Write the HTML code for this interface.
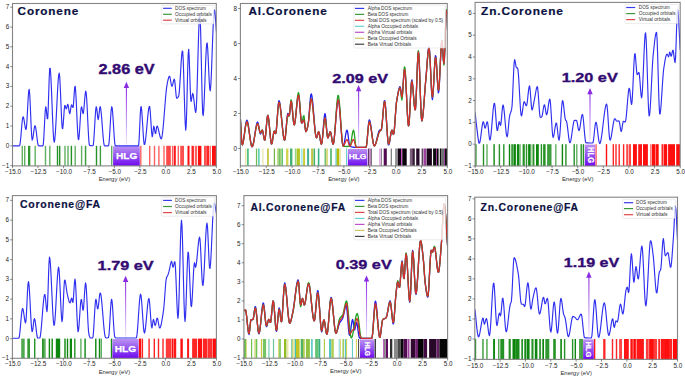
<!DOCTYPE html>
<html><head><meta charset="utf-8"><style>
html,body{margin:0;padding:0;background:#fff;}
svg{display:block;font-family:"Liberation Sans", sans-serif;}
</style></head><body>
<svg width="685" height="377" viewBox="0 0 685 377">
<defs><linearGradient id="hlgH" x1="0" y1="0" x2="0" y2="1"><stop offset="0" stop-color="#bb92f2"/><stop offset="0.5" stop-color="#9352f0"/><stop offset="1" stop-color="#7008f0"/></linearGradient><linearGradient id="arr" x1="0" y1="0" x2="0" y2="1"><stop offset="0" stop-color="#8a2be2" stop-opacity="1"/><stop offset="1" stop-color="#8a2be2" stop-opacity="0.1"/></linearGradient><clipPath id="clip0"><rect x="12.5" y="3.5" width="203.8" height="162.4"/></clipPath><clipPath id="clip1"><rect x="240.4" y="3.5" width="206.9" height="162.4"/></clipPath><clipPath id="clip2"><rect x="475.1" y="2.4" width="205.1" height="163.6"/></clipPath><clipPath id="clip3"><rect x="12.4" y="195.6" width="204" height="162.7"/></clipPath><clipPath id="clip4"><rect x="243.9" y="195.6" width="203.7" height="162.6"/></clipPath><clipPath id="clip5"><rect x="474.8" y="197.2" width="202.7" height="162.2"/></clipPath></defs>
<rect width="685" height="377" fill="#fff"/>
<g><g clip-path="url(#clip0)"><rect x="21.6" y="145.8" width="1.4" height="20.1" fill="#008000" fill-opacity="0.62"/><rect x="24" y="145.8" width="1.4" height="20.1" fill="#008000" fill-opacity="0.62"/><rect x="28" y="145.8" width="2.3" height="20.1" fill="#008000" fill-opacity="0.807"/><rect x="34.5" y="145.8" width="1.4" height="20.1" fill="#008000" fill-opacity="0.62"/><rect x="44.8" y="145.8" width="1.4" height="20.1" fill="#008000" fill-opacity="0.62"/><rect x="49.1" y="145.8" width="1.4" height="20.1" fill="#008000" fill-opacity="0.62"/><rect x="56.8" y="145.8" width="1.4" height="20.1" fill="#008000" fill-opacity="0.856"/><rect x="59" y="145.8" width="1.4" height="20.1" fill="#008000" fill-opacity="0.856"/><rect x="64.3" y="145.8" width="1.4" height="20.1" fill="#008000" fill-opacity="0.62"/><rect x="67.3" y="145.8" width="1.4" height="20.1" fill="#008000" fill-opacity="0.62"/><rect x="70.7" y="145.8" width="1.4" height="20.1" fill="#008000" fill-opacity="0.856"/><rect x="74.5" y="145.8" width="1.4" height="20.1" fill="#008000" fill-opacity="0.62"/><rect x="80.9" y="145.8" width="1.4" height="20.1" fill="#008000" fill-opacity="0.62"/><rect x="84.8" y="145.8" width="1.5" height="20.1" fill="#008000" fill-opacity="0.766"/><rect x="95.8" y="145.8" width="1.4" height="20.1" fill="#008000" fill-opacity="0.856"/><rect x="99.7" y="145.8" width="1.4" height="20.1" fill="#008000" fill-opacity="0.766"/><rect x="111" y="145.8" width="1.4" height="20.1" fill="#008000" fill-opacity="0.62"/><rect x="140.1" y="145.8" width="1.4" height="20.1" fill="#ff0000" fill-opacity="0.62"/><rect x="149" y="145.8" width="1.4" height="20.1" fill="#ff0000" fill-opacity="0.62"/><rect x="153.8" y="145.8" width="1.4" height="20.1" fill="#ff0000" fill-opacity="0.62"/><rect x="158.2" y="145.8" width="1.4" height="20.1" fill="#ff0000" fill-opacity="0.62"/><rect x="163.3" y="145.8" width="1.4" height="20.1" fill="#ff0000" fill-opacity="0.62"/><rect x="166.2" y="145.8" width="4.6" height="20.1" fill="#ff0000" fill-opacity="0.716"/><rect x="171.9" y="145.8" width="1.4" height="20.1" fill="#ff0000" fill-opacity="0.62"/><rect x="173.8" y="145.8" width="2" height="20.1" fill="#ff0000" fill-opacity="0.911"/><rect x="177.6" y="145.8" width="1.4" height="20.1" fill="#ff0000" fill-opacity="0.62"/><rect x="180.2" y="145.8" width="3.8" height="20.1" fill="#ff0000" fill-opacity="0.687"/><rect x="187.5" y="145.8" width="2" height="20.1" fill="#ff0000" fill-opacity="0.945"/><rect x="191.5" y="145.8" width="2.4" height="20.1" fill="#ff0000" fill-opacity="0.856"/><rect x="194.8" y="145.8" width="2.2" height="20.1" fill="#ff0000" fill-opacity="0.62"/><rect x="197.9" y="145.8" width="3.5" height="20.1" fill="#ff0000" fill-opacity="0.945"/><rect x="204" y="145.8" width="2.6" height="20.1" fill="#ff0000" fill-opacity="0.687"/><rect x="206.6" y="145.8" width="2.4" height="20.1" fill="#ff0000" fill-opacity="0.856"/><rect x="209.5" y="145.8" width="1.4" height="20.1" fill="#ff0000" fill-opacity="0.62"/><rect x="212" y="145.8" width="4.2" height="20.1" fill="#ff0000" fill-opacity="0.945"/><rect x="113.1" y="146.2" width="26.7" height="19.7" fill="url(#hlgH)"/><path d="M12.7,145.80 13.2,145.80 13.7,145.80 14.2,145.80 14.7,145.80 15.2,145.80 15.7,145.80 16.2,145.80 16.7,145.80 17.2,145.80 17.7,145.80 18.2,145.80 18.7,145.80 19.2,145.80 19.7,145.54 20.2,142.93 20.7,138.25 21.2,132.46 21.7,126.48 22.2,121.24 22.7,117.69 23.2,116.74 23.7,118.14 24.2,120.91 24.7,124.24 25.2,127.33 25.7,129.37 26.2,129.28 26.7,124.49 27.2,116.22 27.7,106.53 28.2,97.45 28.7,91.02 29.2,89.33 29.7,94.15 30.2,103.85 30.7,115.85 31.2,127.59 31.7,136.51 32.2,140.06 32.7,138.84 33.2,135.84 33.7,132.06 34.2,128.47 34.7,126.07 35.2,125.79 35.7,127.70 36.2,131.10 36.7,135.27 37.2,139.51 37.7,143.12 38.2,145.38 38.7,145.80 39.2,145.80 39.7,145.80 40.2,145.80 40.7,145.80 41.2,145.80 41.7,145.80 42.2,145.80 42.7,145.80 43.2,145.23 43.7,139.67 44.2,130.37 44.7,119.99 45.2,111.23 45.7,106.74 46.2,108.43 46.7,113.71 47.2,118.59 47.7,118.63 48.2,108.88 48.7,93.43 49.2,77.98 49.7,68.23 50.2,68.24 50.7,74.02 51.2,83.62 51.7,95.63 52.2,108.64 52.7,121.21 53.2,131.95 53.7,139.43 54.2,142.24 54.7,140.30 55.2,135.05 55.7,127.31 56.2,117.91 56.7,107.69 57.2,97.46 57.7,88.06 58.2,80.32 58.7,75.07 59.2,73.13 59.7,76.60 60.2,85.45 60.7,97.34 61.2,109.93 61.7,120.89 62.2,127.86 62.7,128.70 63.2,124.24 63.7,117.19 64.2,110.14 64.7,105.68 65.2,105.65 65.7,107.49 66.2,108.92 66.7,108.14 67.2,105.89 67.7,104.28 68.2,105.31 68.7,108.60 69.2,112.10 69.7,113.72 70.2,112.20 70.7,108.92 71.2,105.83 71.7,104.86 72.2,105.98 72.7,107.43 73.2,107.17 73.7,101.59 74.2,93.54 74.7,87.14 75.2,86.32 75.7,91.45 76.2,100.57 76.7,111.77 77.2,123.16 77.7,132.85 78.2,138.93 78.7,139.63 79.2,135.44 79.7,128.28 80.2,120.00 80.7,112.47 81.2,107.53 81.7,106.90 82.2,109.50 82.7,112.61 83.2,113.63 83.7,110.85 84.2,105.47 84.7,99.21 85.2,93.83 85.7,91.05 86.2,92.72 86.7,99.01 87.2,108.37 87.7,119.18 88.2,129.84 88.7,138.76 89.2,144.33 89.7,145.45 90.2,145.54 90.7,145.63 91.2,145.69 91.7,145.74 92.2,145.78 92.7,145.80 93.2,145.39 93.7,141.26 94.2,134.02 94.7,125.31 95.2,116.76 95.7,110.01 96.2,106.70 96.7,108.09 97.2,112.61 97.7,117.43 98.2,119.66 98.7,117.43 99.2,112.61 99.7,108.09 100.2,106.66 100.7,108.58 101.2,112.72 101.7,118.38 102.2,124.86 102.7,131.49 103.2,137.56 103.7,142.38 104.2,145.28 104.7,145.80 105.2,145.80 105.7,145.80 106.2,145.80 106.7,145.80 107.2,145.80 107.7,145.80 108.2,145.80 108.7,145.39 109.2,141.26 109.7,134.02 110.2,125.31 110.7,116.76 111.2,110.01 111.7,106.70 112.2,108.02 112.7,113.04 113.2,120.40 113.7,128.71 114.2,136.62 114.7,142.74 115.2,145.71 115.7,145.80 116.2,145.80 116.7,145.80 117.2,145.80 117.7,145.80 118.2,145.80 118.7,145.80 119.2,145.80 119.7,145.80 120.2,145.80 120.7,145.80 121.2,145.80 121.7,145.80 122.2,145.80 122.7,145.80 123.2,145.80 123.7,145.80 124.2,145.80 124.7,145.80 125.2,145.80 125.7,145.80 126.2,145.80 126.7,145.80 127.2,145.80 127.7,145.80 128.2,145.80 128.7,145.80 129.2,145.80 129.7,145.80 130.2,145.80 130.7,145.80 131.2,145.80 131.7,145.80 132.2,145.80 132.7,145.80 133.2,145.80 133.7,145.80 134.2,145.80 134.7,145.80 135.2,145.80 135.7,145.80 136.2,145.80 136.7,145.80 137.2,145.80 137.7,145.80 138.2,145.80 138.7,145.08 139.2,138.22 139.7,127.19 140.2,115.77 140.7,107.77 141.2,106.59 141.7,110.44 142.2,117.23 142.7,125.50 143.2,133.78 143.7,140.57 144.2,144.42 144.7,144.42 145.2,142.26 145.7,138.56 146.2,133.78 146.7,128.33 147.2,122.68 147.7,117.23 148.2,112.45 148.7,108.75 149.2,106.59 149.7,106.65 150.2,111.00 150.7,118.28 151.2,126.40 151.7,133.27 152.2,136.78 152.7,134.98 153.2,129.83 153.7,126.14 154.2,127.11 154.7,130.31 155.2,133.27 155.7,133.54 156.2,130.36 156.7,126.82 157.2,126.08 157.7,126.95 158.2,128.55 158.7,130.62 159.2,132.89 159.7,135.12 160.2,137.03 160.7,138.37 161.2,138.87 161.7,137.96 162.2,135.43 162.7,131.56 163.2,126.64 163.7,120.96 164.2,114.80 164.7,108.44 165.2,102.18 165.7,96.31 166.2,91.10 166.7,86.84 167.2,83.83 167.7,81.48 168.2,79.25 168.7,77.42 169.2,76.31 169.7,76.31 170.2,78.22 170.7,81.25 171.2,84.28 171.7,86.20 172.2,86.09 172.7,84.50 173.2,82.28 173.7,80.22 174.2,79.11 174.7,80.50 175.2,85.15 175.7,91.06 176.2,96.13 176.7,98.28 177.2,98.11 177.7,97.65 178.2,96.96 178.7,96.05 179.2,92.62 179.7,86.41 180.2,78.48 180.7,69.91 181.2,61.77 181.7,55.14 182.2,51.10 182.7,51.21 183.2,59.63 183.7,74.40 184.2,92.18 184.7,109.62 185.2,123.38 185.7,130.14 186.2,125.85 186.7,110.54 187.2,89.67 187.7,68.80 188.2,53.49 188.7,49.25 189.2,57.24 189.7,72.11 190.2,88.14 190.7,99.57 191.2,101.52 191.7,98.70 192.2,95.11 192.7,93.33 193.2,94.67 193.7,98.04 194.2,102.47 194.7,107.00 195.2,110.66 195.7,112.48 196.2,109.76 196.7,99.73 197.2,84.59 197.7,66.65 198.2,48.26 198.7,31.72 199.2,19.36 199.7,13.52 200.2,17.75 200.7,33.15 201.2,55.14 201.7,79.00 202.2,100.04 202.7,113.56 203.2,115.57 203.7,110.12 204.2,100.19 204.7,87.50 205.2,73.77 205.7,60.73 206.2,50.10 206.7,43.62 207.2,43.02 207.7,48.75 208.2,58.62 208.7,70.21 209.2,81.06 209.7,88.74 210.2,90.82 210.7,86.63 211.2,77.67 211.7,65.48 212.2,51.59 212.7,37.55 213.2,24.89 213.7,15.16 214.2,9.89 214.7,10.27 215.2,14.91 215.7,21.85 216.2,29.16 216.5,32.94" fill="none" stroke="#2f2ff0" stroke-width="1.15" stroke-linejoin="round"/></g><text x="126.65" y="158.63" font-size="9.4" font-weight="bold" fill="#fff" stroke="#fff" stroke-width="0.25" text-anchor="middle" textLength="21.3" lengthAdjust="spacingAndGlyphs">HLG</text><rect x="125.85" y="85.8" width="1.1" height="60" fill="url(#arr)"/><path d="M126.4,81.8 L123.7,88 L129.1,88 Z" fill="#8a2be2"/><rect x="12.5" y="3.5" width="203.8" height="162.4" fill="none" stroke="#858585" stroke-width="1.1"/><line x1="10.2" y1="165.6" x2="12.5" y2="165.6" stroke="#444" stroke-width="0.6"/><text x="9.2" y="167.6" font-size="6.3" fill="#262626" text-anchor="end">−1</text><line x1="10.2" y1="145.8" x2="12.5" y2="145.8" stroke="#444" stroke-width="0.6"/><text x="9.2" y="147.8" font-size="6.3" fill="#262626" text-anchor="end">0</text><line x1="10.2" y1="126" x2="12.5" y2="126" stroke="#444" stroke-width="0.6"/><text x="9.2" y="128" font-size="6.3" fill="#262626" text-anchor="end">1</text><line x1="10.2" y1="106.2" x2="12.5" y2="106.2" stroke="#444" stroke-width="0.6"/><text x="9.2" y="108.2" font-size="6.3" fill="#262626" text-anchor="end">2</text><line x1="10.2" y1="86.4" x2="12.5" y2="86.4" stroke="#444" stroke-width="0.6"/><text x="9.2" y="88.4" font-size="6.3" fill="#262626" text-anchor="end">3</text><line x1="10.2" y1="66.6" x2="12.5" y2="66.6" stroke="#444" stroke-width="0.6"/><text x="9.2" y="68.6" font-size="6.3" fill="#262626" text-anchor="end">4</text><line x1="10.2" y1="46.8" x2="12.5" y2="46.8" stroke="#444" stroke-width="0.6"/><text x="9.2" y="48.8" font-size="6.3" fill="#262626" text-anchor="end">5</text><line x1="10.2" y1="27" x2="12.5" y2="27" stroke="#444" stroke-width="0.6"/><text x="9.2" y="29" font-size="6.3" fill="#262626" text-anchor="end">6</text><line x1="10.2" y1="7.2" x2="12.5" y2="7.2" stroke="#444" stroke-width="0.6"/><text x="9.2" y="9.2" font-size="6.3" fill="#262626" text-anchor="end">7</text><line x1="12.5" y1="165.9" x2="12.5" y2="168.2" stroke="#444" stroke-width="0.6"/><text x="13" y="174" font-size="6.3" fill="#262626" text-anchor="middle">−15.0</text><line x1="37.98" y1="165.9" x2="37.98" y2="168.2" stroke="#444" stroke-width="0.6"/><text x="38.48" y="174" font-size="6.3" fill="#262626" text-anchor="middle">−12.5</text><line x1="63.45" y1="165.9" x2="63.45" y2="168.2" stroke="#444" stroke-width="0.6"/><text x="63.95" y="174" font-size="6.3" fill="#262626" text-anchor="middle">−10.0</text><line x1="88.93" y1="165.9" x2="88.93" y2="168.2" stroke="#444" stroke-width="0.6"/><text x="89.43" y="174" font-size="6.3" fill="#262626" text-anchor="middle">−7.5</text><line x1="114.4" y1="165.9" x2="114.4" y2="168.2" stroke="#444" stroke-width="0.6"/><text x="114.9" y="174" font-size="6.3" fill="#262626" text-anchor="middle">−5.0</text><line x1="139.88" y1="165.9" x2="139.88" y2="168.2" stroke="#444" stroke-width="0.6"/><text x="140.38" y="174" font-size="6.3" fill="#262626" text-anchor="middle">−2.5</text><line x1="165.35" y1="165.9" x2="165.35" y2="168.2" stroke="#444" stroke-width="0.6"/><text x="165.85" y="174" font-size="6.3" fill="#262626" text-anchor="middle">0.0</text><line x1="190.83" y1="165.9" x2="190.83" y2="168.2" stroke="#444" stroke-width="0.6"/><text x="191.33" y="174" font-size="6.3" fill="#262626" text-anchor="middle">2.5</text><line x1="216.3" y1="165.9" x2="216.3" y2="168.2" stroke="#444" stroke-width="0.6"/><text x="216.8" y="174" font-size="6.3" fill="#262626" text-anchor="middle">5.0</text><text x="114.4" y="181.1" font-size="5.9" fill="#2a2a2a" text-anchor="middle">Energy (eV)</text><text x="17.6" y="15.1" font-size="10.9" font-weight="bold" fill="#0b1142" stroke="#0b1142" stroke-width="0.2" letter-spacing="0.8" textLength="61.5" lengthAdjust="spacingAndGlyphs">Coronene</text><text x="98.5" y="73.9" font-size="13.75" font-weight="bold" fill="#320b72" stroke="#320b72" stroke-width="0.35" textLength="56.2" lengthAdjust="spacingAndGlyphs">2.86 eV</text><rect x="161.3" y="5.5" width="52.7" height="18.4" rx="0.8" fill="#fff" fill-opacity="0.8" stroke="#d8d8d8" stroke-width="0.5"/><line x1="163.1" y1="8.3" x2="171.8" y2="8.3" stroke="#3a3af0" stroke-width="1.2"/><text x="175.1" y="9.9" font-size="4.6" fill="#333" textLength="30.9" lengthAdjust="spacingAndGlyphs">DOS spectrum</text><line x1="163.1" y1="14.3" x2="171.8" y2="14.3" stroke="#3c9a3c" stroke-width="1.2"/><text x="175.1" y="15.9" font-size="4.6" fill="#333" textLength="36.8" lengthAdjust="spacingAndGlyphs">Occupied orbitals</text><line x1="163.1" y1="20.2" x2="171.8" y2="20.2" stroke="#e04848" stroke-width="1.2"/><text x="175.1" y="21.8" font-size="4.6" fill="#333" textLength="31.5" lengthAdjust="spacingAndGlyphs">Virtual orbitals</text></g>
<g><g clip-path="url(#clip1)"><rect x="245.2" y="148.5" width="1.2" height="17.4" fill="#e2e29a" fill-opacity="1"/><rect x="247" y="148.5" width="1.8" height="17.4" fill="#52c284" fill-opacity="1"/><rect x="255.9" y="148.5" width="1.2" height="17.4" fill="#74ba54" fill-opacity="1"/><rect x="257.9" y="148.5" width="1.8" height="17.4" fill="#66d2b6" fill-opacity="1"/><rect x="262.3" y="148.5" width="1.2" height="17.4" fill="#e6e6a8" fill-opacity="1"/><rect x="267.1" y="148.5" width="1.7" height="17.4" fill="#c2c232" fill-opacity="1"/><rect x="273.8" y="148.5" width="1.2" height="17.4" fill="#74b244" fill-opacity="1"/><rect x="277.4" y="148.5" width="1.2" height="17.4" fill="#96c844" fill-opacity="1"/><rect x="278.6" y="148.5" width="1.4" height="17.4" fill="#76c266" fill-opacity="1"/><rect x="280" y="148.5" width="1.5" height="17.4" fill="#a6d476" fill-opacity="1"/><rect x="281.5" y="148.5" width="1.5" height="17.4" fill="#66c476" fill-opacity="1"/><rect x="286" y="148.5" width="2.4" height="17.4" fill="#d2d254" fill-opacity="1"/><rect x="290" y="148.5" width="2.4" height="17.4" fill="#44b274" fill-opacity="1"/><rect x="294.8" y="148.5" width="1.6" height="17.4" fill="#96d486" fill-opacity="1"/><rect x="296.7" y="148.5" width="3.2" height="17.4" fill="#b2c424" fill-opacity="1"/><rect x="300.7" y="148.5" width="2" height="17.4" fill="#a6eaea" fill-opacity="1"/><rect x="303.1" y="148.5" width="2" height="17.4" fill="#caca34" fill-opacity="1"/><rect x="307.1" y="148.5" width="2" height="17.4" fill="#44b294" fill-opacity="1"/><rect x="311.1" y="148.5" width="2" height="17.4" fill="#c4c444" fill-opacity="1"/><rect x="313.5" y="148.5" width="1.6" height="17.4" fill="#44b264" fill-opacity="1"/><rect x="317.8" y="148.5" width="1.6" height="17.4" fill="#34b284" fill-opacity="1"/><rect x="324.6" y="148.5" width="1.2" height="17.4" fill="#54b254" fill-opacity="1"/><rect x="326.2" y="148.5" width="1.6" height="17.4" fill="#d4d464" fill-opacity="1"/><rect x="330.2" y="148.5" width="1.6" height="17.4" fill="#44b264" fill-opacity="1"/><rect x="335" y="148.5" width="1" height="17.4" fill="#a6e2e2" fill-opacity="1"/><rect x="336" y="148.5" width="0.8" height="17.4" fill="#64d2c4" fill-opacity="1"/><rect x="336.8" y="148.5" width="2.4" height="17.4" fill="#baba04" fill-opacity="1"/><rect x="339.2" y="148.5" width="1.6" height="17.4" fill="#e2e294" fill-opacity="1"/><rect x="346.2" y="148.5" width="0.8" height="17.4" fill="#44cac4" fill-opacity="1"/><rect x="368.2" y="148.5" width="1.2" height="17.4" fill="#3a0a3a" fill-opacity="1"/><rect x="369.4" y="148.5" width="1.5" height="17.4" fill="#d080d0" fill-opacity="1"/><rect x="370.9" y="148.5" width="0.7" height="17.4" fill="#202020" fill-opacity="1"/><rect x="379.2" y="148.5" width="1.6" height="17.4" fill="#e2a2e2" fill-opacity="1"/><rect x="381" y="148.5" width="1" height="17.4" fill="#888888" fill-opacity="1"/><rect x="383.7" y="148.5" width="3.1" height="17.4" fill="#520a52" fill-opacity="1"/><rect x="390.7" y="148.5" width="1.2" height="17.4" fill="#767676" fill-opacity="1"/><rect x="395.1" y="148.5" width="2.8" height="17.4" fill="#929292" fill-opacity="1"/><rect x="397.9" y="148.5" width="3.2" height="17.4" fill="#140414" fill-opacity="1"/><rect x="401.1" y="148.5" width="1.2" height="17.4" fill="#c244c2" fill-opacity="1"/><rect x="402.3" y="148.5" width="4.4" height="17.4" fill="#0a020a" fill-opacity="1"/><rect x="409.8" y="148.5" width="2.4" height="17.4" fill="#806080" fill-opacity="1"/><rect x="412.2" y="148.5" width="2.6" height="17.4" fill="#3a203a" fill-opacity="1"/><rect x="416.2" y="148.5" width="3.3" height="17.4" fill="#2a0a2a" fill-opacity="1"/><rect x="421.6" y="148.5" width="1.8" height="17.4" fill="#604060" fill-opacity="1"/><rect x="423.8" y="148.5" width="2.4" height="17.4" fill="#a040a0" fill-opacity="1"/><rect x="426.6" y="148.5" width="5.3" height="17.4" fill="#1a041a" fill-opacity="1"/><rect x="433.1" y="148.5" width="2.9" height="17.4" fill="#0a0a0a" fill-opacity="1"/><rect x="436" y="148.5" width="1" height="17.4" fill="#a040a0" fill-opacity="1"/><rect x="437" y="148.5" width="1.6" height="17.4" fill="#0a0a0a" fill-opacity="1"/><rect x="439.8" y="148.5" width="1.7" height="17.4" fill="#0a0a0a" fill-opacity="1"/><rect x="441.5" y="148.5" width="2.5" height="17.4" fill="#707070" fill-opacity="1"/><rect x="444" y="148.5" width="1" height="17.4" fill="#a040a0" fill-opacity="1"/><rect x="445" y="148.5" width="2.5" height="17.4" fill="#0a0a0a" fill-opacity="1"/><rect x="347.8" y="148.9" width="19.6" height="17" fill="url(#hlgH)"/><path d="M240.4,119.00 240.9,127.67 241.4,137.01 241.9,143.68 242.4,144.87 242.9,143.51 243.4,140.98 243.9,137.61 244.4,133.79 244.9,129.85 245.4,126.17 245.9,123.09 246.4,120.98 246.9,120.20 247.4,120.89 247.9,122.77 248.4,125.56 248.9,128.98 249.4,132.73 249.9,136.55 250.4,140.13 250.9,143.20 251.4,145.48 251.9,146.68 252.4,146.59 252.9,145.38 253.4,143.30 253.9,140.57 254.4,137.42 254.9,134.06 255.4,130.73 255.9,127.64 256.4,125.03 256.9,123.10 257.4,122.10 257.9,122.38 258.4,124.38 258.9,127.36 259.4,130.50 259.9,132.99 260.4,134.00 260.9,133.33 261.4,131.90 261.9,130.55 262.4,130.15 262.9,131.69 263.4,134.56 263.9,137.66 264.4,139.86 264.9,140.00 265.4,137.05 265.9,131.96 266.4,125.99 266.9,120.40 267.4,116.44 267.9,115.36 268.4,117.23 268.9,121.14 269.4,126.32 269.9,131.97 270.4,137.30 270.9,141.53 271.4,143.87 271.9,143.65 272.4,141.35 272.9,137.96 273.4,134.47 273.9,131.87 274.4,131.15 274.9,132.29 275.4,133.63 275.9,133.07 276.4,129.15 276.9,122.95 277.4,115.74 277.9,108.78 278.4,103.34 278.9,100.68 279.4,101.18 279.9,103.35 280.4,106.80 280.9,111.21 281.4,116.23 281.9,121.51 282.4,126.73 282.9,131.55 283.4,135.61 283.9,138.59 284.4,140.15 284.9,139.67 285.4,136.31 285.9,131.03 286.4,124.96 286.9,119.24 287.4,114.97 287.9,113.30 288.4,114.19 288.9,115.64 289.4,115.54 289.9,111.39 290.4,105.61 290.9,101.46 291.4,101.63 291.9,104.97 292.4,110.12 292.9,115.88 293.4,121.03 293.9,124.37 294.4,124.81 294.9,122.87 295.4,119.29 295.9,114.64 296.4,109.48 296.9,104.37 297.4,99.89 297.9,96.59 298.4,95.05 298.9,96.21 299.4,100.42 299.9,106.43 300.4,112.96 300.9,118.71 301.4,122.41 301.9,123.02 302.4,122.27 302.9,121.16 303.4,120.20 303.9,119.98 304.4,122.22 304.9,126.17 305.4,129.93 305.9,131.60 306.4,131.09 306.9,129.75 307.4,127.84 307.9,125.65 308.4,122.47 308.9,117.04 309.4,110.40 309.9,103.66 310.4,97.95 310.9,94.36 311.4,93.88 311.9,95.81 312.4,99.47 312.9,104.43 313.4,110.22 313.9,116.43 314.4,122.58 314.9,128.25 315.4,132.98 315.9,136.33 316.4,137.85 316.9,137.35 317.4,135.60 317.9,133.49 318.4,131.92 318.9,131.80 319.4,133.72 319.9,136.90 320.4,140.36 320.9,143.15 321.4,144.30 321.9,142.68 322.4,138.49 322.9,132.71 323.4,126.34 323.9,120.37 324.4,115.78 324.9,113.57 325.4,114.85 325.9,119.44 326.4,125.70 326.9,131.96 327.4,136.55 327.9,137.87 328.4,136.99 328.9,135.31 329.4,133.46 329.9,132.03 330.4,131.65 330.9,133.10 331.4,135.94 331.9,139.30 332.4,142.32 332.9,144.11 333.4,143.86 333.9,141.35 334.4,137.08 334.9,131.55 335.4,125.27 335.9,118.73 336.4,112.45 336.9,106.92 337.4,102.65 337.9,100.14 338.4,99.92 338.9,102.18 339.4,106.45 339.9,112.17 340.4,118.79 340.9,125.73 341.4,132.46 341.9,138.40 342.4,143.01 342.9,145.72 343.4,146.07 343.9,144.76 344.4,142.40 344.9,139.42 345.4,136.26 345.9,133.37 346.4,131.18 346.9,130.13 347.4,130.91 347.9,133.68 348.4,137.54 348.9,141.54 349.4,144.74 349.9,146.20 350.4,146.45 350.9,146.65 351.4,146.81 351.9,146.94 352.4,147.05 352.9,147.13 353.4,147.19 353.9,147.24 354.4,147.29 354.9,147.34 355.4,147.37 355.9,147.39 356.4,147.40 356.9,147.40 357.4,147.40 357.9,147.40 358.4,147.40 358.9,147.40 359.4,147.40 359.9,147.40 360.4,147.40 360.9,147.40 361.4,147.40 361.9,147.40 362.4,147.40 362.9,147.40 363.4,147.40 363.9,147.40 364.4,147.40 364.9,147.40 365.4,147.40 365.9,147.40 366.4,146.28 366.9,142.36 367.4,136.71 367.9,130.49 368.4,124.84 368.9,120.92 369.4,119.83 369.9,120.84 370.4,123.03 370.9,126.11 371.4,129.74 371.9,133.63 372.4,137.46 372.9,140.91 373.4,143.67 373.9,145.43 374.4,145.88 374.9,145.39 375.4,144.30 375.9,142.75 376.4,140.87 376.9,138.80 377.4,136.68 377.9,134.64 378.4,132.81 378.9,131.34 379.4,130.36 379.9,130.00 380.4,130.00 380.9,130.00 381.4,129.70 381.9,126.75 382.4,121.54 382.9,115.20 383.4,108.86 383.9,103.65 384.4,100.70 384.9,101.12 385.4,105.06 385.9,111.52 386.4,119.45 386.9,127.80 387.4,135.52 387.9,141.56 388.4,144.88 388.9,144.87 389.4,143.09 389.9,140.27 390.4,136.98 390.9,133.82 391.4,131.34 391.9,130.14 392.4,130.87 392.9,132.95 393.4,134.44 393.9,133.27 394.4,128.91 394.9,122.52 395.4,115.28 395.9,108.37 396.4,102.97 396.9,99.64 397.4,96.57 397.9,93.66 398.4,91.06 398.9,88.91 399.4,87.37 399.9,86.57 400.4,87.28 400.9,90.88 401.4,95.02 401.9,97.00 402.4,94.49 402.9,88.38 403.4,80.79 403.9,73.84 404.4,69.64 404.9,70.11 405.4,75.13 405.9,83.35 406.4,93.44 406.9,104.06 407.4,113.89 407.9,121.57 408.4,125.79 408.9,125.05 409.4,118.95 409.9,109.45 410.4,98.67 410.9,88.75 411.4,81.79 411.9,79.88 412.4,82.31 412.9,87.31 413.4,93.71 413.9,100.33 414.4,106.03 414.9,109.63 415.4,109.64 415.9,103.14 416.4,91.82 416.9,78.37 417.4,65.44 417.9,55.73 418.4,51.90 418.9,55.94 419.4,66.30 419.9,80.34 420.4,95.44 420.9,108.96 421.4,118.26 421.9,120.85 422.4,119.19 422.9,115.55 423.4,110.39 423.9,104.21 424.4,97.48 424.9,90.68 425.4,84.29 425.9,78.74 426.4,72.66 426.9,65.87 427.4,59.13 427.9,53.19 428.4,48.81 428.9,46.76 429.4,48.72 429.9,55.86 430.4,66.22 430.9,77.80 431.4,88.56 431.9,96.50 432.4,99.60 432.9,96.69 433.4,89.30 433.9,79.48 434.4,69.25 434.9,60.64 435.4,55.70 435.9,56.33 436.4,62.24 436.9,71.18 437.4,80.81 437.9,88.82 438.4,92.87 438.9,90.99 439.4,83.91 439.9,73.63 440.4,62.14 440.9,51.45 441.4,43.57 441.9,40.50 442.4,44.12 442.9,52.10 443.4,60.08 443.9,63.70 444.4,58.56 444.9,46.18 445.4,31.07 445.9,17.78 446.4,10.83 446.9,12.19 447.2,14.00" fill="none" stroke="#2020f0" stroke-width="1.3" stroke-linejoin="round"/><path d="M240.4,119.00 240.9,127.67 241.4,137.01 241.9,143.68 242.4,144.88 242.9,143.61 243.4,141.24 243.9,138.09 244.4,134.51 244.9,130.83 245.4,127.38 245.9,124.50 246.4,122.53 246.9,121.80 247.4,122.45 247.9,124.22 248.4,126.84 248.9,130.05 249.4,133.58 249.9,137.16 250.4,140.53 250.9,143.42 251.4,145.56 251.9,146.69 252.4,146.60 252.9,145.47 253.4,143.52 253.9,140.97 254.4,138.02 254.9,134.88 255.4,131.77 255.9,128.88 256.4,126.43 256.9,124.63 257.4,123.69 257.9,123.90 258.4,125.44 258.9,127.75 259.4,130.19 259.9,132.12 260.4,132.90 260.9,132.42 261.4,131.39 261.9,130.42 262.4,130.15 262.9,131.69 263.4,134.56 263.9,137.66 264.4,139.86 264.9,140.00 265.4,137.05 265.9,131.96 266.4,125.99 266.9,120.40 267.4,116.44 267.9,115.36 268.4,117.23 268.9,121.14 269.4,126.32 269.9,131.97 270.4,137.30 270.9,141.53 271.4,143.87 271.9,143.65 272.4,141.35 272.9,137.96 273.4,134.47 273.9,131.87 274.4,131.15 274.9,132.29 275.4,133.63 275.9,133.11 276.4,129.39 276.9,123.51 277.4,116.66 277.9,110.06 278.4,104.90 278.9,102.38 279.4,102.85 279.9,104.93 280.4,108.24 280.9,112.45 281.4,117.26 281.9,122.32 282.4,127.31 282.9,131.92 283.4,135.81 283.9,138.67 284.4,140.16 284.9,139.75 285.4,136.81 285.9,132.18 286.4,126.84 286.9,121.77 287.4,117.93 287.9,116.30 288.4,116.18 288.9,116.09 289.4,115.42 289.9,110.81 290.4,104.50 290.9,100.00 291.4,100.17 291.9,103.72 292.4,109.19 292.9,115.31 293.4,120.78 293.9,124.33 294.4,124.80 294.9,122.70 295.4,118.82 295.9,113.78 296.4,108.18 296.9,102.65 297.4,97.79 297.9,94.22 298.4,92.55 298.9,93.81 299.4,98.40 299.9,104.95 300.4,112.05 300.9,118.32 301.4,122.34 301.9,122.91 302.4,121.13 302.9,118.49 303.4,116.22 303.9,115.61 304.4,118.69 304.9,124.12 305.4,129.30 305.9,131.60 306.4,131.08 306.9,129.71 307.4,127.79 307.9,125.63 308.4,122.74 308.9,118.08 309.4,112.51 309.9,106.91 310.4,102.19 310.9,99.25 311.4,98.86 311.9,100.57 312.4,103.82 312.9,108.21 313.4,113.36 313.9,118.85 314.4,124.31 314.9,129.34 315.4,133.54 315.9,136.51 316.4,137.86 316.9,137.35 317.4,135.60 317.9,133.49 318.4,131.92 318.9,131.80 319.4,133.72 319.9,136.90 320.4,140.36 320.9,143.15 321.4,144.30 321.9,142.91 322.4,139.30 322.9,134.33 323.4,128.85 323.9,123.71 324.4,119.76 324.9,117.86 325.4,118.91 325.9,122.69 326.4,127.85 326.9,133.01 327.4,136.79 327.9,137.87 328.4,136.99 328.9,135.31 329.4,133.46 329.9,132.03 330.4,131.65 330.9,133.10 331.4,135.94 331.9,139.30 332.4,142.32 332.9,144.11 333.4,143.81 333.9,141.05 334.4,136.36 334.9,130.27 335.4,123.35 335.9,116.15 336.4,109.23 336.9,103.14 337.4,98.45 337.9,95.69 338.4,95.44 338.9,97.91 339.4,102.57 339.9,108.82 340.4,116.05 340.9,123.65 341.4,131.02 341.9,137.54 342.4,142.62 342.9,145.63 343.4,146.23 343.9,146.30 344.4,146.36 344.9,146.40 345.4,146.44 345.9,146.47 346.4,146.49 346.9,146.50 347.4,146.49 347.9,146.47 348.4,146.43 348.9,146.37 349.4,146.29 349.9,146.20 350.4,145.28 350.9,143.06 351.4,140.04 351.9,136.74 352.4,133.65 352.9,131.28 353.4,130.14 353.9,131.06 354.4,134.31 354.9,138.75 355.4,143.19 355.9,146.44 356.4,147.40 356.9,147.40 357.4,147.40 357.9,147.40 358.4,147.40 358.9,147.40 359.4,147.40 359.9,147.40 360.4,147.40 360.9,147.40 361.4,147.40 361.9,147.40 362.4,147.40 362.9,147.40 363.4,147.40 363.9,147.40 364.4,147.40 364.9,147.40 365.4,147.40 365.9,147.40 366.4,146.36 366.9,142.73 367.4,137.49 367.9,131.71 368.4,126.47 368.9,122.84 369.4,121.83 369.9,122.76 370.4,124.79 370.9,127.62 371.4,130.98 371.9,134.57 372.4,138.10 372.9,141.29 373.4,143.84 373.9,145.46 374.4,145.89 374.9,145.49 375.4,144.61 375.9,143.34 376.4,141.79 376.9,140.04 377.4,138.20 377.9,136.37 378.4,134.65 378.9,133.13 379.4,131.91 379.9,131.10 380.4,130.68 380.9,130.33 381.4,129.47 381.9,126.26 382.4,121.14 382.9,115.12 383.4,109.20 383.9,104.38 384.4,101.67 384.9,102.08 385.4,105.84 385.9,112.00 386.4,119.56 386.9,127.52 387.4,134.88 387.9,140.63 388.4,143.79 388.9,143.79 389.4,142.14 389.9,139.52 390.4,136.48 390.9,133.55 391.4,131.25 391.9,130.14 392.4,130.87 392.9,132.95 393.4,134.44 393.9,133.25 394.4,128.85 394.9,122.40 395.4,115.12 395.9,108.22 396.4,102.91 396.9,99.76 397.4,96.90 397.9,94.22 398.4,91.84 398.9,89.88 399.4,88.48 399.9,87.77 400.4,88.61 400.9,92.83 401.4,97.68 401.9,100.00 402.4,96.98 402.9,89.62 403.4,80.47 403.9,72.09 404.4,67.02 404.9,67.46 405.4,72.71 405.9,81.32 406.4,91.89 406.9,103.02 407.4,113.30 407.9,121.35 408.4,125.77 408.9,125.09 409.4,119.15 409.9,109.92 410.4,99.44 410.9,89.80 411.4,83.04 411.9,81.17 412.4,83.51 412.9,88.29 413.4,94.41 413.9,100.76 414.4,106.21 414.9,109.66 415.4,109.63 415.9,102.98 416.4,91.41 416.9,77.66 417.4,64.45 417.9,54.52 418.4,50.60 418.9,54.71 419.4,65.27 419.9,79.58 420.4,94.96 420.9,108.73 421.4,118.21 421.9,120.85 422.4,119.18 422.9,115.50 423.4,110.31 423.9,104.10 424.4,97.35 424.9,90.56 425.4,84.22 425.9,78.76 426.4,72.87 426.9,66.33 427.4,59.86 427.9,54.18 428.4,50.01 428.9,48.06 429.4,49.88 429.9,56.48 430.4,66.08 430.9,76.80 431.4,86.78 431.9,94.13 432.4,97.00 432.9,94.39 433.4,87.77 433.9,78.96 434.4,69.79 434.9,62.08 435.4,57.65 435.9,58.19 436.4,63.39 436.9,71.23 437.4,79.69 437.9,86.72 438.4,90.28 438.9,88.49 439.4,81.76 439.9,71.99 440.4,61.07 440.9,50.91 441.4,43.42 441.9,40.50 442.4,44.33 442.9,52.75 443.4,61.17 443.9,65.00 444.4,59.61 444.9,46.62 445.4,30.77 445.9,16.83 446.4,9.54 446.9,11.49 447.2,14.00" fill="none" stroke="#20a020" stroke-width="1.3" stroke-linejoin="round"/><path d="M240.4,119.00 240.9,127.67 241.4,137.01 241.9,143.68 242.4,144.88 242.9,143.61 243.4,141.24 243.9,138.09 244.4,134.51 244.9,130.83 245.4,127.38 245.9,124.50 246.4,122.53 246.9,121.80 247.4,122.45 247.9,124.22 248.4,126.84 248.9,130.05 249.4,133.58 249.9,137.16 250.4,140.53 250.9,143.42 251.4,145.56 251.9,146.69 252.4,146.60 252.9,145.47 253.4,143.52 253.9,140.97 254.4,138.02 254.9,134.88 255.4,131.77 255.9,128.88 256.4,126.43 256.9,124.63 257.4,123.69 257.9,123.90 258.4,125.44 258.9,127.75 259.4,130.19 259.9,132.12 260.4,132.90 260.9,132.42 261.4,131.39 261.9,130.42 262.4,130.15 262.9,131.69 263.4,134.56 263.9,137.66 264.4,139.86 264.9,140.00 265.4,137.05 265.9,131.96 266.4,125.99 266.9,120.40 267.4,116.44 267.9,115.36 268.4,117.23 268.9,121.14 269.4,126.32 269.9,131.97 270.4,137.30 270.9,141.53 271.4,143.87 271.9,143.65 272.4,141.35 272.9,137.96 273.4,134.47 273.9,131.87 274.4,131.15 274.9,132.29 275.4,133.63 275.9,133.11 276.4,129.39 276.9,123.51 277.4,116.66 277.9,110.06 278.4,104.90 278.9,102.38 279.4,102.85 279.9,104.93 280.4,108.24 280.9,112.45 281.4,117.26 281.9,122.32 282.4,127.31 282.9,131.92 283.4,135.81 283.9,138.67 284.4,140.16 284.9,139.69 285.4,136.46 285.9,131.37 286.4,125.53 286.9,120.02 287.4,115.91 287.9,114.30 288.4,114.86 288.9,115.77 289.4,115.54 289.9,111.39 290.4,105.61 290.9,101.46 291.4,101.63 291.9,104.97 292.4,110.12 292.9,115.88 293.4,121.03 293.9,124.37 294.4,124.81 294.9,122.87 295.4,119.29 295.9,114.64 296.4,109.48 296.9,104.37 297.4,99.89 297.9,96.59 298.4,95.05 298.9,96.21 299.4,100.42 299.9,106.43 300.4,112.96 300.9,118.71 301.4,122.41 301.9,123.02 302.4,122.27 302.9,121.16 303.4,120.20 303.9,119.98 304.4,122.22 304.9,126.17 305.4,129.93 305.9,131.60 306.4,131.08 306.9,129.71 307.4,127.79 307.9,125.63 308.4,122.74 308.9,118.08 309.4,112.51 309.9,106.91 310.4,102.19 310.9,99.25 311.4,98.86 311.9,100.57 312.4,103.82 312.9,108.21 313.4,113.36 313.9,118.85 314.4,124.31 314.9,129.34 315.4,133.54 315.9,136.51 316.4,137.86 316.9,137.35 317.4,135.60 317.9,133.49 318.4,131.92 318.9,131.80 319.4,133.72 319.9,136.90 320.4,140.36 320.9,143.15 321.4,144.30 321.9,142.91 322.4,139.30 322.9,134.33 323.4,128.85 323.9,123.71 324.4,119.76 324.9,117.86 325.4,118.91 325.9,122.69 326.4,127.85 326.9,133.01 327.4,136.79 327.9,137.87 328.4,136.99 328.9,135.31 329.4,133.46 329.9,132.03 330.4,131.65 330.9,133.10 331.4,135.94 331.9,139.30 332.4,142.32 332.9,144.11 333.4,143.86 333.9,141.35 334.4,137.08 334.9,131.55 335.4,125.27 335.9,118.73 336.4,112.45 336.9,106.92 337.4,102.65 337.9,100.14 338.4,99.92 338.9,102.18 339.4,106.45 339.9,112.17 340.4,118.79 340.9,125.73 341.4,132.46 341.9,138.40 342.4,143.01 342.9,145.72 343.4,146.15 343.9,145.59 344.4,144.59 344.9,143.33 345.4,142.00 345.9,140.78 346.4,139.86 346.9,139.41 347.4,139.75 347.9,140.96 348.4,142.62 348.9,144.33 349.4,145.66 349.9,146.20 350.4,145.84 350.9,144.92 351.4,143.64 351.9,142.24 352.4,140.92 352.9,139.90 353.4,139.42 353.9,139.84 354.4,141.35 354.9,143.40 355.4,145.45 355.9,146.96 356.4,147.40 356.9,147.40 357.4,147.40 357.9,147.40 358.4,147.40 358.9,147.40 359.4,147.40 359.9,147.40 360.4,147.40 360.9,147.40 361.4,147.40 361.9,147.40 362.4,147.40 362.9,147.40 363.4,147.40 363.9,147.40 364.4,147.40 364.9,147.40 365.4,147.40 365.9,147.40 366.4,146.36 366.9,142.73 367.4,137.49 367.9,131.71 368.4,126.47 368.9,122.84 369.4,121.83 369.9,122.76 370.4,124.79 370.9,127.62 371.4,130.98 371.9,134.57 372.4,138.10 372.9,141.29 373.4,143.84 373.9,145.46 374.4,145.89 374.9,145.49 375.4,144.61 375.9,143.34 376.4,141.79 376.9,140.04 377.4,138.20 377.9,136.37 378.4,134.65 378.9,133.13 379.4,131.91 379.9,131.10 380.4,130.68 380.9,130.33 381.4,129.47 381.9,126.26 382.4,121.14 382.9,115.12 383.4,109.20 383.9,104.38 384.4,101.67 384.9,102.08 385.4,105.84 385.9,112.00 386.4,119.56 386.9,127.52 387.4,134.88 387.9,140.63 388.4,143.79 388.9,143.79 389.4,142.14 389.9,139.52 390.4,136.48 390.9,133.55 391.4,131.25 391.9,130.14 392.4,130.87 392.9,132.95 393.4,134.44 393.9,133.25 394.4,128.85 394.9,122.40 395.4,115.12 395.9,108.22 396.4,102.91 396.9,99.76 397.4,96.90 397.9,94.22 398.4,91.84 398.9,89.88 399.4,88.48 399.9,87.77 400.4,88.39 400.9,91.58 401.4,95.25 401.9,97.00 402.4,94.49 402.9,88.38 403.4,80.79 403.9,73.84 404.4,69.64 404.9,70.11 405.4,75.13 405.9,83.35 406.4,93.44 406.9,104.06 407.4,113.89 407.9,121.57 408.4,125.79 408.9,125.09 409.4,119.15 409.9,109.92 410.4,99.44 410.9,89.80 411.4,83.04 411.9,81.17 412.4,83.51 412.9,88.29 413.4,94.41 413.9,100.76 414.4,106.21 414.9,109.66 415.4,109.64 415.9,103.14 416.4,91.82 416.9,78.37 417.4,65.44 417.9,55.73 418.4,51.90 418.9,55.94 419.4,66.30 419.9,80.34 420.4,95.44 420.9,108.96 421.4,118.26 421.9,120.85 422.4,119.18 422.9,115.50 423.4,110.31 423.9,104.10 424.4,97.35 424.9,90.56 425.4,84.22 425.9,78.76 426.4,72.87 426.9,66.33 427.4,59.86 427.9,54.18 428.4,50.01 428.9,48.06 429.4,49.88 429.9,56.48 430.4,66.08 430.9,76.80 431.4,86.78 431.9,94.13 432.4,97.00 432.9,94.39 433.4,87.77 433.9,78.96 434.4,69.79 434.9,62.08 435.4,57.65 435.9,58.19 436.4,63.39 436.9,71.23 437.4,79.69 437.9,86.72 438.4,90.28 438.9,88.49 439.4,81.76 439.9,71.99 440.4,61.07 440.9,50.91 441.4,43.42 441.9,40.50 442.4,44.12 442.9,52.10 443.4,60.08 443.9,63.70 444.4,58.56 444.9,46.18 445.4,31.07 445.9,17.78 446.4,10.83 446.9,12.19 447.2,14.00" fill="none" stroke="#d62e2e" stroke-width="1.25" stroke-linejoin="round"/></g><text x="357.55" y="159.41" font-size="7.3" font-weight="bold" fill="#fff" stroke="#fff" stroke-width="0.25" text-anchor="middle" textLength="17.7" lengthAdjust="spacingAndGlyphs">HLG</text><rect x="358.05" y="89.1" width="1.1" height="59.4" fill="url(#arr)"/><path d="M358.6,85.1 L355.9,91.3 L361.3,91.3 Z" fill="#8a2be2"/><rect x="240.4" y="3.5" width="206.9" height="162.4" fill="none" stroke="#858585" stroke-width="1.1"/><line x1="238.1" y1="148.5" x2="240.4" y2="148.5" stroke="#444" stroke-width="0.6"/><text x="237.1" y="150.5" font-size="6.3" fill="#262626" text-anchor="end">0</text><line x1="238.1" y1="113.5" x2="240.4" y2="113.5" stroke="#444" stroke-width="0.6"/><text x="237.1" y="115.5" font-size="6.3" fill="#262626" text-anchor="end">2</text><line x1="238.1" y1="78.5" x2="240.4" y2="78.5" stroke="#444" stroke-width="0.6"/><text x="237.1" y="80.5" font-size="6.3" fill="#262626" text-anchor="end">4</text><line x1="238.1" y1="43.5" x2="240.4" y2="43.5" stroke="#444" stroke-width="0.6"/><text x="237.1" y="45.5" font-size="6.3" fill="#262626" text-anchor="end">6</text><line x1="238.1" y1="8.5" x2="240.4" y2="8.5" stroke="#444" stroke-width="0.6"/><text x="237.1" y="10.5" font-size="6.3" fill="#262626" text-anchor="end">8</text><line x1="240.4" y1="165.9" x2="240.4" y2="168.2" stroke="#444" stroke-width="0.6"/><text x="240.9" y="174" font-size="6.3" fill="#262626" text-anchor="middle">−15.0</text><line x1="266.26" y1="165.9" x2="266.26" y2="168.2" stroke="#444" stroke-width="0.6"/><text x="266.76" y="174" font-size="6.3" fill="#262626" text-anchor="middle">−12.5</text><line x1="292.12" y1="165.9" x2="292.12" y2="168.2" stroke="#444" stroke-width="0.6"/><text x="292.62" y="174" font-size="6.3" fill="#262626" text-anchor="middle">−10.0</text><line x1="317.99" y1="165.9" x2="317.99" y2="168.2" stroke="#444" stroke-width="0.6"/><text x="318.49" y="174" font-size="6.3" fill="#262626" text-anchor="middle">−7.5</text><line x1="343.85" y1="165.9" x2="343.85" y2="168.2" stroke="#444" stroke-width="0.6"/><text x="344.35" y="174" font-size="6.3" fill="#262626" text-anchor="middle">−5.0</text><line x1="369.71" y1="165.9" x2="369.71" y2="168.2" stroke="#444" stroke-width="0.6"/><text x="370.21" y="174" font-size="6.3" fill="#262626" text-anchor="middle">−2.5</text><line x1="395.58" y1="165.9" x2="395.58" y2="168.2" stroke="#444" stroke-width="0.6"/><text x="396.08" y="174" font-size="6.3" fill="#262626" text-anchor="middle">0.0</text><line x1="421.44" y1="165.9" x2="421.44" y2="168.2" stroke="#444" stroke-width="0.6"/><text x="421.94" y="174" font-size="6.3" fill="#262626" text-anchor="middle">2.5</text><line x1="447.3" y1="165.9" x2="447.3" y2="168.2" stroke="#444" stroke-width="0.6"/><text x="447.8" y="174" font-size="6.3" fill="#262626" text-anchor="middle">5.0</text><text x="343.85" y="181.1" font-size="5.9" fill="#2a2a2a" text-anchor="middle">Energy (eV)</text><text x="248.5" y="15.1" font-size="10.9" font-weight="bold" fill="#0b1142" stroke="#0b1142" stroke-width="0.2" letter-spacing="0.8" textLength="79.1" lengthAdjust="spacingAndGlyphs">Al.Coronene</text><text x="332.3" y="82.8" font-size="12.5" font-weight="bold" fill="#320b72" stroke="#320b72" stroke-width="0.35" textLength="55.7" lengthAdjust="spacingAndGlyphs">2.09 eV</text><rect x="353.9" y="5.1" width="91.6" height="42.9" rx="0.8" fill="#fff" fill-opacity="0.8" stroke="#d8d8d8" stroke-width="0.5"/><line x1="355" y1="8.4" x2="364.2" y2="8.4" stroke="#3a3af0" stroke-width="1.2"/><text x="367.7" y="10" font-size="4.6" fill="#333" textLength="44.5" lengthAdjust="spacingAndGlyphs">Alpha DOS spectrum</text><line x1="355" y1="14.37" x2="364.2" y2="14.37" stroke="#3c9a3c" stroke-width="1.2"/><text x="367.7" y="15.97" font-size="4.6" fill="#333" textLength="40.5" lengthAdjust="spacingAndGlyphs">Beta DOS spectrum</text><line x1="355" y1="20.34" x2="364.2" y2="20.34" stroke="#e04848" stroke-width="1.2"/><text x="367.7" y="21.94" font-size="4.6" fill="#333" textLength="75.5" lengthAdjust="spacingAndGlyphs">Total DOS spectrum (scaled by 0.5)</text><line x1="355" y1="26.31" x2="364.2" y2="26.31" stroke="#6cd2d2" stroke-width="1.2"/><text x="367.7" y="27.91" font-size="4.6" fill="#333" textLength="50.5" lengthAdjust="spacingAndGlyphs">Alpha Occupied orbitals</text><line x1="355" y1="32.28" x2="364.2" y2="32.28" stroke="#c050c8" stroke-width="1.2"/><text x="367.7" y="33.88" font-size="4.6" fill="#333" textLength="44.5" lengthAdjust="spacingAndGlyphs">Alpha Virtual orbitals</text><line x1="355" y1="38.25" x2="364.2" y2="38.25" stroke="#c8c860" stroke-width="1.2"/><text x="367.7" y="39.85" font-size="4.6" fill="#333" textLength="49" lengthAdjust="spacingAndGlyphs">Beta Occupied Orbitals</text><line x1="355" y1="44.22" x2="364.2" y2="44.22" stroke="#404040" stroke-width="1.2"/><text x="367.7" y="45.82" font-size="4.6" fill="#333" textLength="43.5" lengthAdjust="spacingAndGlyphs">Beta Virtual Orbitals</text></g>
<g><g clip-path="url(#clip2)"><rect x="475.2" y="144.2" width="1.4" height="21.8" fill="#008000" fill-opacity="0.856"/><rect x="482.8" y="144.2" width="1.4" height="21.8" fill="#008000" fill-opacity="0.856"/><rect x="486.3" y="144.2" width="1.4" height="21.8" fill="#008000" fill-opacity="0.62"/><rect x="493.4" y="144.2" width="1.4" height="21.8" fill="#008000" fill-opacity="0.945"/><rect x="498.7" y="144.2" width="1.4" height="21.8" fill="#008000" fill-opacity="0.856"/><rect x="503.1" y="144.2" width="1.4" height="21.8" fill="#008000" fill-opacity="0.856"/><rect x="508.8" y="144.2" width="1.4" height="21.8" fill="#008000" fill-opacity="0.945"/><rect x="511.2" y="144.2" width="1.8" height="21.8" fill="#008000" fill-opacity="0.766"/><rect x="513.4" y="144.2" width="2.5" height="21.8" fill="#008000" fill-opacity="0.966"/><rect x="516.9" y="144.2" width="2.2" height="21.8" fill="#008000" fill-opacity="0.945"/><rect x="519.3" y="144.2" width="1.4" height="21.8" fill="#008000" fill-opacity="0.62"/><rect x="522.6" y="144.2" width="2.2" height="21.8" fill="#008000" fill-opacity="0.856"/><rect x="525.8" y="144.2" width="1.4" height="21.8" fill="#008000" fill-opacity="0.856"/><rect x="528.1" y="144.2" width="2.4" height="21.8" fill="#008000" fill-opacity="0.945"/><rect x="530.6" y="144.2" width="0.7" height="21.8" fill="#008000" fill-opacity="0.856"/><rect x="532.5" y="144.2" width="1.9" height="21.8" fill="#008000" fill-opacity="0.856"/><rect x="536" y="144.2" width="2.8" height="21.8" fill="#008000" fill-opacity="0.945"/><rect x="540.7" y="144.2" width="1.4" height="21.8" fill="#008000" fill-opacity="0.856"/><rect x="543.1" y="144.2" width="2.5" height="21.8" fill="#008000" fill-opacity="0.856"/><rect x="547.1" y="144.2" width="4.4" height="21.8" fill="#008000" fill-opacity="0.766"/><rect x="555.1" y="144.2" width="1.4" height="21.8" fill="#008000" fill-opacity="0.62"/><rect x="561.7" y="144.2" width="1.4" height="21.8" fill="#008000" fill-opacity="0.945"/><rect x="565.2" y="144.2" width="1.4" height="21.8" fill="#008000" fill-opacity="0.856"/><rect x="573.5" y="144.2" width="1.4" height="21.8" fill="#008000" fill-opacity="0.856"/><rect x="576.1" y="144.2" width="1.4" height="21.8" fill="#008000" fill-opacity="0.62"/><rect x="580.5" y="144.2" width="1.4" height="21.8" fill="#008000" fill-opacity="0.856"/><rect x="582.7" y="144.2" width="1.4" height="21.8" fill="#008000" fill-opacity="0.856"/><rect x="595.4" y="144.2" width="1.4" height="21.8" fill="#ff0000" fill-opacity="0.62"/><rect x="605.8" y="144.2" width="1.4" height="21.8" fill="#ff0000" fill-opacity="0.945"/><rect x="612.6" y="144.2" width="1.4" height="21.8" fill="#ff0000" fill-opacity="0.856"/><rect x="615.3" y="144.2" width="1.4" height="21.8" fill="#ff0000" fill-opacity="0.856"/><rect x="618.5" y="144.2" width="1.4" height="21.8" fill="#ff0000" fill-opacity="0.856"/><rect x="622.9" y="144.2" width="1.4" height="21.8" fill="#ff0000" fill-opacity="0.856"/><rect x="626.2" y="144.2" width="2.2" height="21.8" fill="#ff0000" fill-opacity="0.716"/><rect x="629.2" y="144.2" width="1.6" height="21.8" fill="#ff0000" fill-opacity="0.911"/><rect x="633" y="144.2" width="3.9" height="21.8" fill="#ff0000" fill-opacity="0.945"/><rect x="638.2" y="144.2" width="3.8" height="21.8" fill="#ff0000" fill-opacity="0.911"/><rect x="643" y="144.2" width="4.9" height="21.8" fill="#ff0000" fill-opacity="0.945"/><rect x="650.2" y="144.2" width="1.3" height="21.8" fill="#ff0000" fill-opacity="0.62"/><rect x="651.9" y="144.2" width="3.2" height="21.8" fill="#ff0000" fill-opacity="0.945"/><rect x="655.5" y="144.2" width="3.2" height="21.8" fill="#ff0000" fill-opacity="0.945"/><rect x="661.5" y="144.2" width="1.9" height="21.8" fill="#ff0000" fill-opacity="0.856"/><rect x="663.8" y="144.2" width="3.2" height="21.8" fill="#ff0000" fill-opacity="0.945"/><rect x="667.8" y="144.2" width="1.2" height="21.8" fill="#ff0000" fill-opacity="0.856"/><rect x="669" y="144.2" width="6" height="21.8" fill="#ff0000" fill-opacity="0.945"/><rect x="676.2" y="144.2" width="4" height="21.8" fill="#ff0000" fill-opacity="0.945"/><rect x="584.8" y="144.6" width="10.4" height="21.4" fill="url(#hlgH)"/><path d="M475.1,112.30 475.6,117.03 476.1,121.78 476.6,126.12 477.1,130.13 477.6,134.38 478.1,138.36 478.6,141.50 479.1,143.23 479.6,143.05 480.1,141.13 480.6,137.99 481.1,134.13 481.6,130.07 482.1,126.31 482.6,123.37 483.1,121.76 483.6,122.09 484.1,124.35 484.6,126.96 485.1,128.20 485.6,127.33 486.1,125.35 486.6,123.18 487.1,121.75 487.6,122.29 488.1,125.80 488.6,130.90 489.1,136.00 489.6,139.51 490.1,139.99 490.6,137.78 491.1,133.67 491.6,128.28 492.1,122.22 492.6,116.09 493.1,110.52 493.6,106.11 494.1,103.47 494.6,103.38 495.1,107.09 495.6,113.38 496.1,120.52 496.6,126.81 497.1,130.52 497.6,130.28 498.1,127.34 498.6,123.80 499.1,121.67 499.6,122.50 500.1,124.70 500.6,125.50 501.1,122.60 501.6,117.10 502.1,111.02 502.6,106.32 503.1,104.96 503.6,106.76 504.1,110.57 504.6,115.72 505.1,121.49 505.6,127.18 506.1,132.12 506.6,135.59 507.1,136.90 507.6,135.11 508.1,130.71 508.6,125.10 509.1,119.72 509.6,116.00 510.1,114.05 510.6,112.67 511.1,111.31 511.6,109.43 512.1,105.50 512.6,96.43 513.1,84.51 513.6,72.54 514.1,63.30 514.6,59.60 515.1,61.04 515.6,64.09 516.1,66.86 516.6,67.72 517.1,67.88 517.6,68.10 518.1,70.63 518.6,76.68 519.1,84.98 519.6,94.25 520.1,103.22 520.6,110.62 521.1,115.17 521.6,115.79 522.1,113.75 522.6,110.33 523.1,106.52 523.6,103.30 524.1,101.65 524.6,101.97 525.1,103.17 525.6,104.61 526.1,105.68 526.6,105.66 527.1,103.29 527.6,99.20 528.1,94.40 528.6,89.90 529.1,86.72 529.6,85.91 530.1,89.31 530.6,95.73 531.1,102.85 531.6,108.34 532.1,109.97 532.6,108.90 533.1,106.73 533.6,103.95 534.1,101.10 534.6,98.64 535.1,95.97 535.6,93.00 536.1,90.16 536.6,87.89 537.1,86.62 537.6,87.37 538.1,91.94 538.6,98.92 539.1,106.59 539.6,113.22 540.1,117.11 540.6,117.47 541.1,117.32 541.6,117.06 542.1,116.09 542.6,113.54 543.1,110.26 543.6,107.12 544.1,105.01 544.6,104.84 545.1,107.04 545.6,110.39 546.1,113.46 546.6,114.80 547.1,113.76 547.6,111.14 548.1,107.64 548.6,104.00 549.1,100.94 549.6,99.18 550.1,99.89 550.6,104.68 551.1,112.18 551.6,120.81 552.1,128.96 552.6,135.02 553.1,137.40 553.6,136.44 554.1,134.01 554.6,130.78 555.1,127.42 555.6,124.59 556.1,122.96 556.6,123.40 557.1,126.50 557.6,131.06 558.1,135.76 558.6,139.26 559.1,140.21 559.6,137.35 560.1,131.42 560.6,123.70 561.1,115.47 561.6,108.01 562.1,102.59 562.6,100.50 563.1,101.90 563.6,105.41 564.1,110.01 564.6,114.67 565.1,118.35 565.6,120.07 566.1,120.60 566.6,121.53 567.1,124.08 567.6,127.87 568.1,132.24 568.6,136.56 569.1,140.16 569.6,142.39 570.1,142.68 570.6,141.40 571.1,139.01 571.6,135.85 572.1,132.28 572.6,128.64 573.1,125.28 573.6,122.55 574.1,120.78 574.6,120.30 575.1,120.30 575.6,120.30 576.1,120.30 576.6,120.48 577.1,122.16 577.6,124.90 578.1,127.82 578.6,130.04 579.1,130.66 579.6,129.35 580.1,126.66 580.6,123.22 581.1,119.66 581.6,116.60 582.1,114.66 582.6,114.57 583.1,117.26 583.6,122.04 584.1,127.91 584.6,133.89 585.1,138.98 585.6,142.19 586.1,142.81 586.6,142.84 587.1,142.87 587.6,142.89 588.1,142.91 588.6,142.93 589.1,142.95 589.6,142.96 590.1,142.97 590.6,142.98 591.1,142.99 591.6,143.00 592.1,143.00 592.6,143.00 593.1,142.45 593.6,139.54 594.1,135.06 594.6,130.04 595.1,125.56 595.6,122.65 596.1,122.27 596.6,124.02 597.1,127.18 597.6,131.16 598.1,135.37 598.6,139.24 599.1,142.16 599.6,143.56 600.1,143.22 600.6,141.75 601.1,139.37 601.6,136.25 602.1,132.56 602.6,128.49 603.1,124.23 603.6,119.95 604.1,115.83 604.6,112.05 605.1,108.80 605.6,106.25 606.1,104.59 606.6,104.00 607.1,106.12 607.6,111.55 608.1,118.92 608.6,126.84 609.1,133.93 609.6,138.81 610.1,140.17 610.6,139.27 611.1,137.32 611.6,134.60 612.1,131.41 612.6,128.05 613.1,124.81 613.6,121.97 614.1,119.84 614.6,118.71 615.1,118.74 615.6,119.44 616.1,120.36 616.6,121.06 617.1,121.19 617.6,121.12 618.1,121.02 618.6,120.93 619.1,120.96 619.6,122.85 620.1,126.25 620.6,129.65 621.1,131.54 621.6,130.69 622.1,127.80 622.6,124.33 623.1,121.73 623.6,121.23 624.1,121.50 624.6,121.87 625.1,122.09 625.6,121.19 626.1,117.89 626.6,112.89 627.1,106.92 627.6,100.73 628.1,95.05 628.6,90.64 629.1,88.24 629.6,88.77 630.1,92.60 630.6,97.85 631.1,102.50 631.6,104.50 632.1,101.32 632.6,93.22 633.1,82.34 633.6,70.81 634.1,60.78 634.6,54.39 635.1,53.66 635.6,57.96 636.1,64.65 636.6,71.07 637.1,74.58 637.6,74.38 638.1,73.45 638.6,72.59 639.1,72.80 639.6,76.65 640.1,83.03 640.6,90.00 641.1,95.60 641.6,97.90 642.1,94.96 642.6,87.22 643.1,76.35 643.6,63.99 644.1,51.80 644.6,41.43 645.1,34.52 645.6,32.78 646.1,38.48 646.6,50.37 647.1,65.98 647.6,82.82 648.1,98.43 648.6,110.32 649.1,116.02 649.6,114.82 650.1,109.74 650.6,101.88 651.1,92.23 651.6,81.80 652.1,71.59 652.6,62.59 653.1,55.80 653.6,50.99 654.1,46.22 654.6,41.71 655.1,37.75 655.6,34.66 656.1,32.72 656.6,32.42 657.1,39.37 657.6,53.54 658.1,71.48 658.6,89.77 659.1,104.96 659.6,113.63 660.1,113.89 660.6,110.47 661.1,104.76 661.6,97.55 662.1,89.63 662.6,81.80 663.1,74.84 663.6,69.56 664.1,66.21 664.6,63.10 665.1,60.18 665.6,57.64 666.1,55.66 666.6,54.43 667.1,54.13 667.6,54.90 668.1,56.10 668.6,56.87 669.1,55.18 669.6,52.14 670.1,52.75 670.6,54.79 671.1,56.25 671.6,55.40 672.1,52.82 672.6,50.43 673.1,50.20 673.6,52.94 674.1,57.11 674.6,60.93 675.1,62.60 675.6,57.09 676.1,43.94 676.6,28.26 677.1,15.11 677.6,9.60 678.1,12.30 678.6,19.25 679.1,28.74 679.6,39.02 680.1,48.39 680.2,50.00" fill="none" stroke="#2f2ff0" stroke-width="1.15" stroke-linejoin="round"/></g><text transform="translate(590.6,155.05) rotate(90)" x="0" y="2.89" font-size="8.4" font-weight="bold" fill="#fff" stroke="#fff" stroke-width="0.25" text-anchor="middle" textLength="15.9" lengthAdjust="spacingAndGlyphs">HLG</text><rect x="589.45" y="92" width="1.1" height="52.2" fill="url(#arr)"/><path d="M590,88 L587.3,94.2 L592.7,94.2 Z" fill="#8a2be2"/><rect x="475.1" y="2.4" width="205.1" height="163.6" fill="none" stroke="#858585" stroke-width="1.1"/><line x1="472.8" y1="166" x2="475.1" y2="166" stroke="#444" stroke-width="0.6"/><text x="471.8" y="168" font-size="6.3" fill="#262626" text-anchor="end">−1</text><line x1="472.8" y1="144.2" x2="475.1" y2="144.2" stroke="#444" stroke-width="0.6"/><text x="471.8" y="146.2" font-size="6.3" fill="#262626" text-anchor="end">0</text><line x1="472.8" y1="122.4" x2="475.1" y2="122.4" stroke="#444" stroke-width="0.6"/><text x="471.8" y="124.4" font-size="6.3" fill="#262626" text-anchor="end">1</text><line x1="472.8" y1="100.6" x2="475.1" y2="100.6" stroke="#444" stroke-width="0.6"/><text x="471.8" y="102.6" font-size="6.3" fill="#262626" text-anchor="end">2</text><line x1="472.8" y1="78.8" x2="475.1" y2="78.8" stroke="#444" stroke-width="0.6"/><text x="471.8" y="80.8" font-size="6.3" fill="#262626" text-anchor="end">3</text><line x1="472.8" y1="57" x2="475.1" y2="57" stroke="#444" stroke-width="0.6"/><text x="471.8" y="59" font-size="6.3" fill="#262626" text-anchor="end">4</text><line x1="472.8" y1="35.2" x2="475.1" y2="35.2" stroke="#444" stroke-width="0.6"/><text x="471.8" y="37.2" font-size="6.3" fill="#262626" text-anchor="end">5</text><line x1="472.8" y1="13.4" x2="475.1" y2="13.4" stroke="#444" stroke-width="0.6"/><text x="471.8" y="15.4" font-size="6.3" fill="#262626" text-anchor="end">6</text><line x1="475.1" y1="166" x2="475.1" y2="168.3" stroke="#444" stroke-width="0.6"/><text x="475.6" y="174.1" font-size="6.3" fill="#262626" text-anchor="middle">−15.0</text><line x1="500.74" y1="166" x2="500.74" y2="168.3" stroke="#444" stroke-width="0.6"/><text x="501.24" y="174.1" font-size="6.3" fill="#262626" text-anchor="middle">−12.5</text><line x1="526.38" y1="166" x2="526.38" y2="168.3" stroke="#444" stroke-width="0.6"/><text x="526.88" y="174.1" font-size="6.3" fill="#262626" text-anchor="middle">−10.0</text><line x1="552.01" y1="166" x2="552.01" y2="168.3" stroke="#444" stroke-width="0.6"/><text x="552.51" y="174.1" font-size="6.3" fill="#262626" text-anchor="middle">−7.5</text><line x1="577.65" y1="166" x2="577.65" y2="168.3" stroke="#444" stroke-width="0.6"/><text x="578.15" y="174.1" font-size="6.3" fill="#262626" text-anchor="middle">−5.0</text><line x1="603.29" y1="166" x2="603.29" y2="168.3" stroke="#444" stroke-width="0.6"/><text x="603.79" y="174.1" font-size="6.3" fill="#262626" text-anchor="middle">−2.5</text><line x1="628.93" y1="166" x2="628.93" y2="168.3" stroke="#444" stroke-width="0.6"/><text x="629.43" y="174.1" font-size="6.3" fill="#262626" text-anchor="middle">0.0</text><line x1="654.56" y1="166" x2="654.56" y2="168.3" stroke="#444" stroke-width="0.6"/><text x="655.06" y="174.1" font-size="6.3" fill="#262626" text-anchor="middle">2.5</text><line x1="680.2" y1="166" x2="680.2" y2="168.3" stroke="#444" stroke-width="0.6"/><text x="680.7" y="174.1" font-size="6.3" fill="#262626" text-anchor="middle">5.0</text><text x="577.65" y="181.2" font-size="5.9" fill="#2a2a2a" text-anchor="middle">Energy (eV)</text><text x="481.1" y="15.4" font-size="10.9" font-weight="bold" fill="#0b1142" stroke="#0b1142" stroke-width="0.2" letter-spacing="0.8" textLength="82.7" lengthAdjust="spacingAndGlyphs">Zn.Coronene</text><text x="561.7" y="81.6" font-size="13.33" font-weight="bold" fill="#320b72" stroke="#320b72" stroke-width="0.35" textLength="56.1" lengthAdjust="spacingAndGlyphs">1.20 eV</text><rect x="625.2" y="4.4" width="52.9" height="19.2" rx="0.8" fill="#fff" fill-opacity="0.8" stroke="#d8d8d8" stroke-width="0.5"/><line x1="626.2" y1="7.5" x2="635.2" y2="7.5" stroke="#3a3af0" stroke-width="1.2"/><text x="638.8" y="9.1" font-size="4.6" fill="#333" textLength="30.9" lengthAdjust="spacingAndGlyphs">DOS spectrum</text><line x1="626.2" y1="13.6" x2="635.2" y2="13.6" stroke="#3c9a3c" stroke-width="1.2"/><text x="638.8" y="15.2" font-size="4.6" fill="#333" textLength="36.8" lengthAdjust="spacingAndGlyphs">Occupied orbitals</text><line x1="626.2" y1="19.6" x2="635.2" y2="19.6" stroke="#e04848" stroke-width="1.2"/><text x="638.8" y="21.2" font-size="4.6" fill="#333" textLength="31.5" lengthAdjust="spacingAndGlyphs">Virtual orbitals</text></g>
<g><g clip-path="url(#clip3)"><rect x="21.2" y="338.6" width="3.5" height="19.7" fill="#008000" fill-opacity="0.687"/><rect x="27.3" y="338.6" width="2.7" height="19.7" fill="#008000" fill-opacity="0.787"/><rect x="34" y="338.6" width="1.4" height="19.7" fill="#008000" fill-opacity="0.856"/><rect x="42.2" y="338.6" width="3.5" height="19.7" fill="#008000" fill-opacity="0.62"/><rect x="42.1" y="338.6" width="1.4" height="19.7" fill="#008000" fill-opacity="0.766"/><rect x="48.7" y="338.6" width="1.4" height="19.7" fill="#008000" fill-opacity="0.945"/><rect x="51.5" y="338.6" width="1.4" height="19.7" fill="#008000" fill-opacity="0.945"/><rect x="55.8" y="338.6" width="4.4" height="19.7" fill="#008000" fill-opacity="0.945"/><rect x="64.3" y="338.6" width="1.4" height="19.7" fill="#008000" fill-opacity="0.945"/><rect x="66.8" y="338.6" width="1.4" height="19.7" fill="#008000" fill-opacity="0.945"/><rect x="69.8" y="338.6" width="2.2" height="19.7" fill="#008000" fill-opacity="0.945"/><rect x="74.1" y="338.6" width="1.4" height="19.7" fill="#008000" fill-opacity="0.856"/><rect x="80.2" y="338.6" width="1.4" height="19.7" fill="#008000" fill-opacity="0.62"/><rect x="84.4" y="338.6" width="1.4" height="19.7" fill="#008000" fill-opacity="0.945"/><rect x="95.1" y="338.6" width="1.4" height="19.7" fill="#008000" fill-opacity="0.966"/><rect x="98.8" y="338.6" width="1.4" height="19.7" fill="#008000" fill-opacity="0.945"/><rect x="100.6" y="338.6" width="1.4" height="19.7" fill="#008000" fill-opacity="0.62"/><rect x="110.8" y="338.6" width="1.4" height="19.7" fill="#008000" fill-opacity="0.911"/><rect x="138.9" y="338.6" width="2.3" height="19.7" fill="#ff0000" fill-opacity="0.945"/><rect x="141.7" y="338.6" width="1.4" height="19.7" fill="#ff0000" fill-opacity="0.856"/><rect x="148.4" y="338.6" width="1.4" height="19.7" fill="#ff0000" fill-opacity="0.856"/><rect x="153.6" y="338.6" width="1.4" height="19.7" fill="#ff0000" fill-opacity="0.856"/><rect x="157.8" y="338.6" width="1.4" height="19.7" fill="#ff0000" fill-opacity="0.856"/><rect x="162.3" y="338.6" width="1.4" height="19.7" fill="#ff0000" fill-opacity="0.856"/><rect x="165.8" y="338.6" width="5.6" height="19.7" fill="#ff0000" fill-opacity="0.766"/><rect x="171.8" y="338.6" width="1.2" height="19.7" fill="#ff0000" fill-opacity="0.945"/><rect x="173.4" y="338.6" width="2.8" height="19.7" fill="#ff0000" fill-opacity="0.911"/><rect x="180.4" y="338.6" width="2.4" height="19.7" fill="#ff0000" fill-opacity="0.945"/><rect x="187.1" y="338.6" width="2" height="19.7" fill="#ff0000" fill-opacity="0.911"/><rect x="192.1" y="338.6" width="5" height="19.7" fill="#ff0000" fill-opacity="0.856"/><rect x="197.9" y="338.6" width="4.3" height="19.7" fill="#ff0000" fill-opacity="0.945"/><rect x="203" y="338.6" width="4" height="19.7" fill="#ff0000" fill-opacity="0.856"/><rect x="207.4" y="338.6" width="5.2" height="19.7" fill="#ff0000" fill-opacity="0.807"/><rect x="213" y="338.6" width="3.2" height="19.7" fill="#ff0000" fill-opacity="0.966"/><rect x="112.4" y="339" width="26.2" height="19.3" fill="url(#hlgH)"/><path d="M12.5,338.20 13.0,338.20 13.5,338.20 14.0,338.20 14.5,338.20 15.0,338.20 15.5,338.20 16.0,338.20 16.5,338.20 17.0,338.20 17.5,338.20 18.0,338.20 18.5,338.20 19.0,337.96 19.5,335.54 20.0,331.16 20.5,325.64 21.0,319.80 21.5,314.45 22.0,310.39 22.5,308.46 23.0,309.11 23.5,311.55 24.0,314.97 24.5,318.55 25.0,321.48 25.5,322.95 26.0,320.70 26.5,312.89 27.0,302.25 27.5,291.61 28.0,283.80 28.5,281.60 29.0,284.87 29.5,291.72 30.0,300.78 30.5,310.66 31.0,320.00 31.5,327.40 32.0,331.50 32.5,331.22 33.0,327.87 33.5,323.39 34.0,319.67 34.5,318.55 35.0,320.20 35.5,323.56 36.0,327.81 36.5,332.14 37.0,335.74 37.5,337.79 38.0,338.00 38.5,338.00 39.0,338.00 39.5,338.00 40.0,337.56 40.5,335.10 41.0,330.90 41.5,325.45 42.0,319.27 42.5,312.83 43.0,306.65 43.5,301.20 44.0,297.00 44.5,294.54 45.0,294.51 45.5,298.31 46.0,304.10 46.5,309.39 47.0,311.70 47.5,306.02 48.0,292.48 48.5,276.32 49.0,262.78 49.5,257.10 50.0,259.35 50.5,265.40 51.0,274.20 51.5,284.69 52.0,295.81 52.5,306.50 53.0,315.72 53.5,322.41 54.0,325.50 54.5,324.30 55.0,319.52 55.5,312.14 56.0,303.12 56.5,293.43 57.0,284.03 57.5,275.88 58.0,269.94 58.5,267.19 59.0,269.08 59.5,276.09 60.0,286.35 60.5,297.96 61.0,308.99 61.5,317.53 62.0,321.67 62.5,319.12 63.0,310.16 63.5,298.33 64.0,287.21 64.5,280.41 65.0,280.10 65.5,282.23 66.0,285.53 66.5,289.29 67.0,292.74 67.5,295.20 68.0,297.31 68.5,299.39 69.0,301.17 69.5,302.43 70.0,302.90 70.5,301.86 71.0,299.75 71.5,298.09 72.0,298.81 72.5,301.99 73.0,302.34 73.5,297.18 74.0,289.32 74.5,282.14 75.0,279.00 75.5,282.68 76.0,291.96 76.5,304.17 77.0,316.64 77.5,326.72 78.0,331.74 78.5,330.49 79.0,325.58 79.5,318.56 80.0,310.94 80.5,304.22 81.0,299.91 81.5,299.49 82.0,302.93 82.5,307.54 83.0,310.40 83.5,308.59 84.0,302.29 84.5,294.11 85.0,286.74 85.5,282.83 86.0,284.64 86.5,291.49 87.0,301.48 87.5,312.70 88.0,323.24 88.5,331.19 89.0,334.76 89.5,336.39 90.0,337.55 90.5,338.00 91.0,338.00 91.5,338.00 92.0,338.00 92.5,338.00 93.0,337.04 93.5,331.92 94.0,323.96 94.5,314.92 95.0,306.60 95.5,300.77 96.0,299.19 96.5,301.72 97.0,305.81 97.5,308.85 98.0,308.55 98.5,305.24 99.0,300.51 99.5,295.94 100.0,293.10 100.5,293.20 101.0,295.49 101.5,299.42 102.0,304.54 102.5,310.44 103.0,316.66 103.5,322.78 104.0,328.36 104.5,332.97 105.0,336.16 105.5,337.50 106.0,337.75 106.5,337.93 107.0,338.00 107.5,337.94 108.0,337.76 108.5,337.50 109.0,334.62 109.5,327.82 110.0,318.99 110.5,310.03 111.0,302.80 111.5,299.22 112.0,300.67 112.5,306.16 113.0,314.04 113.5,322.69 114.0,330.46 114.5,335.72 115.0,337.27 115.5,337.79 116.0,338.00 116.5,338.00 117.0,338.00 117.5,338.00 118.0,338.00 118.5,338.00 119.0,338.00 119.5,338.00 120.0,338.00 120.5,338.00 121.0,338.00 121.5,338.00 122.0,338.00 122.5,338.00 123.0,338.00 123.5,338.00 124.0,338.00 124.5,338.00 125.0,338.00 125.5,338.00 126.0,338.00 126.5,338.00 127.0,338.00 127.5,338.00 128.0,338.00 128.5,338.00 129.0,338.00 129.5,338.00 130.0,338.00 130.5,338.00 131.0,338.00 131.5,338.00 132.0,338.00 132.5,338.00 133.0,338.00 133.5,338.00 134.0,338.00 134.5,338.00 135.0,338.00 135.5,338.00 136.0,338.00 136.5,337.72 137.0,334.89 137.5,329.65 138.0,322.84 138.5,315.28 139.0,307.81 139.5,301.25 140.0,296.43 140.5,294.17 141.0,295.31 141.5,299.63 142.0,306.08 142.5,313.60 143.0,321.12 143.5,327.57 144.0,331.89 144.5,333.05 145.0,331.41 145.5,327.89 146.0,323.06 146.5,317.48 147.0,311.73 147.5,306.39 148.0,302.01 148.5,299.17 149.0,298.50 149.5,301.49 150.0,307.45 150.5,314.73 151.0,321.68 151.5,326.66 152.0,327.99 152.5,325.00 153.0,320.84 153.5,319.36 154.0,320.93 154.5,323.48 155.0,325.38 155.5,325.14 156.0,322.92 156.5,320.14 157.0,318.21 157.5,318.40 158.0,320.44 158.5,323.35 159.0,326.17 159.5,327.92 160.0,327.93 160.5,326.97 161.0,325.26 161.5,322.96 162.0,320.20 162.5,317.10 163.0,313.83 163.5,310.50 164.0,305.98 164.5,299.72 165.0,292.74 165.5,286.07 166.0,280.71 166.5,277.70 167.0,276.59 167.5,275.80 168.0,274.68 168.5,273.12 169.0,271.40 169.5,269.30 170.0,266.76 170.5,264.27 171.0,262.30 171.5,261.33 172.0,262.49 172.5,265.55 173.0,267.30 173.5,266.17 174.0,263.80 174.5,261.74 175.0,261.94 175.5,268.29 176.0,279.34 176.5,292.47 177.0,305.08 177.5,314.56 178.0,318.30 178.5,312.87 179.0,298.85 179.5,279.69 180.0,258.81 180.5,239.65 181.0,225.63 181.5,220.20 182.0,225.81 182.5,240.28 183.0,260.07 183.5,281.63 184.0,301.42 184.5,315.89 185.0,321.50 185.5,316.90 186.0,305.24 186.5,289.73 187.0,273.58 187.5,260.00 188.0,252.19 188.5,252.86 189.0,260.61 189.5,272.57 190.0,285.93 190.5,297.89 191.0,305.64 191.5,306.60 192.0,301.63 192.5,292.99 193.0,282.71 193.5,272.84 194.0,265.43 194.5,262.50 195.0,264.90 195.5,267.30 196.0,266.06 196.5,262.79 197.0,258.13 197.5,252.75 198.0,247.31 198.5,242.46 199.0,238.85 199.5,237.15 200.0,239.19 200.5,246.49 201.0,256.91 201.5,268.22 202.0,278.19 202.5,284.60 203.0,285.39 203.5,281.15 204.0,273.35 204.5,263.26 205.0,252.16 205.5,241.31 206.0,231.98 206.5,225.46 207.0,223.00 207.5,226.87 208.0,236.38 208.5,248.40 209.0,259.80 209.5,267.43 210.0,268.48 210.5,264.22 211.0,256.33 211.5,246.07 212.0,234.70 212.5,223.44 213.0,213.56 213.5,206.30 214.0,202.91 214.5,203.37 215.0,205.36 215.5,208.20 216.0,211.28 216.5,214.00" fill="none" stroke="#2f2ff0" stroke-width="1.15" stroke-linejoin="round"/></g><text x="125.5" y="351.84" font-size="9.7" font-weight="bold" fill="#fff" stroke="#fff" stroke-width="0.25" text-anchor="middle" textLength="21.4" lengthAdjust="spacingAndGlyphs">HLG</text><rect x="125.05" y="279.7" width="1.1" height="58.9" fill="url(#arr)"/><path d="M125.6,275.7 L122.9,281.9 L128.3,281.9 Z" fill="#8a2be2"/><rect x="12.4" y="195.6" width="204" height="162.7" fill="none" stroke="#858585" stroke-width="1.1"/><line x1="10.1" y1="358.35" x2="12.4" y2="358.35" stroke="#444" stroke-width="0.6"/><text x="9.1" y="360.35" font-size="6.3" fill="#262626" text-anchor="end">−1</text><line x1="10.1" y1="338.6" x2="12.4" y2="338.6" stroke="#444" stroke-width="0.6"/><text x="9.1" y="340.6" font-size="6.3" fill="#262626" text-anchor="end">0</text><line x1="10.1" y1="318.85" x2="12.4" y2="318.85" stroke="#444" stroke-width="0.6"/><text x="9.1" y="320.85" font-size="6.3" fill="#262626" text-anchor="end">1</text><line x1="10.1" y1="299.1" x2="12.4" y2="299.1" stroke="#444" stroke-width="0.6"/><text x="9.1" y="301.1" font-size="6.3" fill="#262626" text-anchor="end">2</text><line x1="10.1" y1="279.35" x2="12.4" y2="279.35" stroke="#444" stroke-width="0.6"/><text x="9.1" y="281.35" font-size="6.3" fill="#262626" text-anchor="end">3</text><line x1="10.1" y1="259.6" x2="12.4" y2="259.6" stroke="#444" stroke-width="0.6"/><text x="9.1" y="261.6" font-size="6.3" fill="#262626" text-anchor="end">4</text><line x1="10.1" y1="239.85" x2="12.4" y2="239.85" stroke="#444" stroke-width="0.6"/><text x="9.1" y="241.85" font-size="6.3" fill="#262626" text-anchor="end">5</text><line x1="10.1" y1="220.1" x2="12.4" y2="220.1" stroke="#444" stroke-width="0.6"/><text x="9.1" y="222.1" font-size="6.3" fill="#262626" text-anchor="end">6</text><line x1="10.1" y1="200.35" x2="12.4" y2="200.35" stroke="#444" stroke-width="0.6"/><text x="9.1" y="202.35" font-size="6.3" fill="#262626" text-anchor="end">7</text><line x1="12.4" y1="358.3" x2="12.4" y2="360.6" stroke="#444" stroke-width="0.6"/><text x="12.9" y="366.4" font-size="6.3" fill="#262626" text-anchor="middle">−15.0</text><line x1="37.9" y1="358.3" x2="37.9" y2="360.6" stroke="#444" stroke-width="0.6"/><text x="38.4" y="366.4" font-size="6.3" fill="#262626" text-anchor="middle">−12.5</text><line x1="63.4" y1="358.3" x2="63.4" y2="360.6" stroke="#444" stroke-width="0.6"/><text x="63.9" y="366.4" font-size="6.3" fill="#262626" text-anchor="middle">−10.0</text><line x1="88.9" y1="358.3" x2="88.9" y2="360.6" stroke="#444" stroke-width="0.6"/><text x="89.4" y="366.4" font-size="6.3" fill="#262626" text-anchor="middle">−7.5</text><line x1="114.4" y1="358.3" x2="114.4" y2="360.6" stroke="#444" stroke-width="0.6"/><text x="114.9" y="366.4" font-size="6.3" fill="#262626" text-anchor="middle">−5.0</text><line x1="139.9" y1="358.3" x2="139.9" y2="360.6" stroke="#444" stroke-width="0.6"/><text x="140.4" y="366.4" font-size="6.3" fill="#262626" text-anchor="middle">−2.5</text><line x1="165.4" y1="358.3" x2="165.4" y2="360.6" stroke="#444" stroke-width="0.6"/><text x="165.9" y="366.4" font-size="6.3" fill="#262626" text-anchor="middle">0.0</text><line x1="190.9" y1="358.3" x2="190.9" y2="360.6" stroke="#444" stroke-width="0.6"/><text x="191.4" y="366.4" font-size="6.3" fill="#262626" text-anchor="middle">2.5</text><line x1="216.4" y1="358.3" x2="216.4" y2="360.6" stroke="#444" stroke-width="0.6"/><text x="216.9" y="366.4" font-size="6.3" fill="#262626" text-anchor="middle">5.0</text><text x="114.4" y="373.5" font-size="5.9" fill="#2a2a2a" text-anchor="middle">Energy (eV)</text><text x="20" y="208.1" font-size="10.9" font-weight="bold" fill="#0b1142" stroke="#0b1142" stroke-width="0.2" letter-spacing="0.8" textLength="80.8" lengthAdjust="spacingAndGlyphs">Coronene@FA</text><text x="97.6" y="269.9" font-size="13.06" font-weight="bold" fill="#320b72" stroke="#320b72" stroke-width="0.35" textLength="56.1" lengthAdjust="spacingAndGlyphs">1.79 eV</text><rect x="161.5" y="197.3" width="53.3" height="18.9" rx="0.8" fill="#fff" fill-opacity="0.8" stroke="#d8d8d8" stroke-width="0.5"/><line x1="163.1" y1="200.4" x2="171.9" y2="200.4" stroke="#3a3af0" stroke-width="1.2"/><text x="175.1" y="202" font-size="4.6" fill="#333" textLength="30.9" lengthAdjust="spacingAndGlyphs">DOS spectrum</text><line x1="163.1" y1="206.5" x2="171.9" y2="206.5" stroke="#3c9a3c" stroke-width="1.2"/><text x="175.1" y="208.1" font-size="4.6" fill="#333" textLength="36.8" lengthAdjust="spacingAndGlyphs">Occupied orbitals</text><line x1="163.1" y1="212.6" x2="171.9" y2="212.6" stroke="#e04848" stroke-width="1.2"/><text x="175.1" y="214.2" font-size="4.6" fill="#333" textLength="31.5" lengthAdjust="spacingAndGlyphs">Virtual orbitals</text></g>
<g><g clip-path="url(#clip4)"><rect x="243.8" y="339" width="2.4" height="19.2" fill="#72c252" fill-opacity="1"/><rect x="246.2" y="339" width="0.8" height="19.2" fill="#d8d870" fill-opacity="1"/><rect x="251" y="339" width="1.2" height="19.2" fill="#72c252" fill-opacity="1"/><rect x="254.1" y="339" width="1.6" height="19.2" fill="#e2e29a" fill-opacity="1"/><rect x="255.7" y="339" width="1.6" height="19.2" fill="#72c252" fill-opacity="1"/><rect x="260.9" y="339" width="1.2" height="19.2" fill="#c8c840" fill-opacity="1"/><rect x="262.9" y="339" width="3.2" height="19.2" fill="#74c464" fill-opacity="1"/><rect x="268.1" y="339" width="1.6" height="19.2" fill="#96dcc4" fill-opacity="1"/><rect x="272.9" y="339" width="1.2" height="19.2" fill="#6ac49c" fill-opacity="1"/><rect x="278" y="339" width="0.8" height="19.2" fill="#d2d254" fill-opacity="1"/><rect x="279.2" y="339" width="1.6" height="19.2" fill="#72c252" fill-opacity="1"/><rect x="284" y="339" width="2.4" height="19.2" fill="#94ba24" fill-opacity="1"/><rect x="287.2" y="339" width="1.2" height="19.2" fill="#e2e29a" fill-opacity="1"/><rect x="291.2" y="339" width="0.8" height="19.2" fill="#6ac49c" fill-opacity="1"/><rect x="292" y="339" width="1" height="19.2" fill="#96c040" fill-opacity="1"/><rect x="292.4" y="339" width="2.4" height="19.2" fill="#e6e6a8" fill-opacity="1"/><rect x="294.8" y="339" width="1.2" height="19.2" fill="#44c2b4" fill-opacity="1"/><rect x="296" y="339" width="3.6" height="19.2" fill="#c2c222" fill-opacity="1"/><rect x="300.7" y="339" width="2.4" height="19.2" fill="#52b264" fill-opacity="1"/><rect x="303.1" y="339" width="1.6" height="19.2" fill="#a8c844" fill-opacity="1"/><rect x="305.9" y="339" width="4" height="19.2" fill="#92c244" fill-opacity="1"/><rect x="311.1" y="339" width="1.6" height="19.2" fill="#54c8c0" fill-opacity="1"/><rect x="315.1" y="339" width="3.4" height="19.2" fill="#66c474" fill-opacity="1"/><rect x="318.5" y="339" width="1.8" height="19.2" fill="#34b284" fill-opacity="1"/><rect x="323.8" y="339" width="1.2" height="19.2" fill="#b0cc50" fill-opacity="1"/><rect x="329" y="339" width="2.4" height="19.2" fill="#54c8c0" fill-opacity="1"/><rect x="331.4" y="339" width="2.4" height="19.2" fill="#b0cc50" fill-opacity="1"/><rect x="338.6" y="339" width="1.4" height="19.2" fill="#a6e2e2" fill-opacity="1"/><rect x="340" y="339" width="0.8" height="19.2" fill="#d2d254" fill-opacity="1"/><rect x="342.4" y="339" width="1.6" height="19.2" fill="#a4cc60" fill-opacity="1"/><rect x="344.8" y="339" width="1.2" height="19.2" fill="#54c8c0" fill-opacity="1"/><rect x="346" y="339" width="1.1" height="19.2" fill="#d2d254" fill-opacity="1"/><rect x="351.9" y="339" width="1" height="19.2" fill="#54c8c0" fill-opacity="1"/><rect x="355.9" y="339" width="1" height="19.2" fill="#d2d254" fill-opacity="1"/><rect x="358.1" y="339" width="1" height="19.2" fill="#404040" fill-opacity="1"/><rect x="374.6" y="339" width="1.2" height="19.2" fill="#101010" fill-opacity="1"/><rect x="383" y="339" width="1.4" height="19.2" fill="#c060c0" fill-opacity="1"/><rect x="384.4" y="339" width="1.2" height="19.2" fill="#505050" fill-opacity="1"/><rect x="386" y="339" width="2" height="19.2" fill="#600a60" fill-opacity="1"/><rect x="390" y="339" width="2.3" height="19.2" fill="#303030" fill-opacity="1"/><rect x="393.9" y="339" width="3.6" height="19.2" fill="#8a8a8a" fill-opacity="1"/><rect x="397.5" y="339" width="3.2" height="19.2" fill="#4a4a4a" fill-opacity="1"/><rect x="400.7" y="339" width="2.8" height="19.2" fill="#080808" fill-opacity="1"/><rect x="403.5" y="339" width="3.6" height="19.2" fill="#500a50" fill-opacity="1"/><rect x="407.5" y="339" width="2" height="19.2" fill="#a040a0" fill-opacity="1"/><rect x="410.7" y="339" width="4.5" height="19.2" fill="#300830" fill-opacity="1"/><rect x="415.2" y="339" width="2.8" height="19.2" fill="#702070" fill-opacity="1"/><rect x="418" y="339" width="5.5" height="19.2" fill="#060606" fill-opacity="1"/><rect x="423.5" y="339" width="3.6" height="19.2" fill="#400a40" fill-opacity="1"/><rect x="429.1" y="339" width="7.2" height="19.2" fill="#280828" fill-opacity="1"/><rect x="436.3" y="339" width="3.1" height="19.2" fill="#602060" fill-opacity="1"/><rect x="439.4" y="339" width="8.2" height="19.2" fill="#060606" fill-opacity="1"/><rect x="360" y="339.4" width="14.2" height="18.8" fill="url(#hlgH)"/><path d="M244.1,311.00 244.6,310.43 245.1,309.91 245.6,310.02 246.1,312.25 246.6,316.23 247.1,321.17 247.6,326.27 248.1,330.72 248.6,333.75 249.1,334.49 249.6,331.38 250.1,326.04 250.6,321.25 251.1,319.70 251.6,319.70 252.1,319.70 252.6,319.70 253.1,319.44 253.6,316.97 254.1,313.05 254.6,309.13 255.1,306.66 255.6,306.94 256.1,309.88 256.6,314.60 257.1,320.20 257.6,325.80 258.1,330.52 258.6,333.46 259.1,333.81 259.6,331.88 260.1,328.30 260.6,323.63 261.1,318.40 261.6,313.17 262.1,308.50 262.6,304.92 263.1,302.99 263.6,303.39 264.1,306.53 264.6,311.43 265.1,316.98 265.6,322.09 266.1,325.67 266.6,326.66 267.1,325.45 267.6,323.24 268.1,320.94 268.6,319.46 269.1,319.61 269.6,321.00 270.1,322.39 270.6,322.38 271.1,319.28 271.6,314.08 272.1,308.28 272.6,303.39 273.1,300.88 273.6,302.12 274.1,306.74 274.6,313.33 275.1,320.48 275.6,326.79 276.1,330.84 276.6,331.25 277.1,327.88 277.6,322.23 278.1,315.93 278.6,310.61 279.1,307.89 279.6,309.05 280.1,313.02 280.6,317.80 281.1,321.37 281.6,321.69 282.1,317.56 282.6,310.32 283.1,301.61 283.6,293.06 284.1,286.32 284.6,283.01 285.1,283.63 285.6,286.36 286.1,290.63 286.6,295.97 287.1,301.89 287.6,307.91 288.1,313.54 288.6,318.29 289.1,321.69 289.6,323.25 290.1,322.99 290.6,321.83 291.1,320.04 291.6,317.84 292.1,315.47 292.6,313.14 293.1,310.71 293.6,307.62 294.1,304.02 294.6,300.11 295.1,296.07 295.6,292.10 296.1,288.38 296.6,285.10 297.1,282.46 297.6,280.64 298.1,279.82 298.6,281.54 299.1,287.28 299.6,294.72 300.1,301.43 300.6,304.98 301.1,304.24 301.6,301.70 302.1,299.16 302.6,298.36 303.1,300.06 303.6,302.81 304.1,304.87 304.6,304.80 305.1,303.15 305.6,300.41 306.1,296.99 306.6,293.28 307.1,289.70 307.6,286.63 308.1,284.50 308.6,283.70 309.1,284.54 309.6,286.84 310.1,290.28 310.6,294.55 311.1,299.32 311.6,304.29 312.1,309.13 312.6,313.53 313.1,317.16 313.6,319.71 314.1,320.86 314.6,319.85 315.1,316.13 315.6,310.65 316.1,304.38 316.6,298.31 317.1,293.41 317.6,290.67 318.1,291.10 318.6,294.93 319.1,301.19 319.6,308.80 320.1,316.74 320.6,323.94 321.1,329.35 321.6,331.92 322.1,330.94 322.6,327.55 323.1,323.47 323.6,320.42 324.1,319.99 324.6,321.81 325.1,324.94 325.6,328.55 326.1,331.84 326.6,333.99 327.1,334.16 327.6,331.65 328.1,327.04 328.6,321.09 329.1,314.53 329.6,308.12 330.1,302.61 330.6,298.75 331.1,297.30 331.6,298.39 332.1,301.34 332.6,305.65 333.1,310.84 333.6,316.42 334.1,321.91 334.6,326.81 335.1,330.63 335.6,332.90 336.1,333.23 336.6,332.56 337.1,331.31 337.6,329.68 338.1,327.84 338.6,325.99 339.1,324.31 339.6,323.00 340.1,322.11 340.6,321.40 341.1,320.77 341.6,320.14 342.1,319.41 342.6,318.50 343.1,317.05 343.6,314.97 344.1,312.55 344.6,310.10 345.1,307.92 345.6,306.29 346.1,305.52 346.6,306.71 347.1,310.96 347.6,317.08 348.1,323.82 348.6,329.94 349.1,334.19 349.6,335.35 350.1,333.84 350.6,330.81 351.1,327.07 351.6,323.40 352.1,320.61 352.6,319.50 353.1,321.14 353.6,324.75 354.1,328.36 354.6,330.00 355.1,328.72 355.6,325.95 356.1,323.36 356.6,322.55 357.1,324.08 357.6,327.15 358.1,330.91 358.6,334.53 359.1,337.16 359.6,338.03 360.1,338.15 360.6,338.24 361.1,338.29 361.6,338.30 362.1,338.30 362.6,338.30 363.1,338.30 363.6,338.30 364.1,338.30 364.6,338.30 365.1,338.30 365.6,338.30 366.1,338.30 366.6,338.30 367.1,338.30 367.6,338.30 368.1,338.30 368.6,338.30 369.1,338.30 369.6,338.30 370.1,338.30 370.6,338.30 371.1,338.30 371.6,338.30 372.1,337.57 372.6,333.59 373.1,327.22 373.6,319.65 374.1,312.08 374.6,305.71 375.1,301.73 375.6,301.22 376.1,303.48 376.6,307.68 377.1,313.17 377.6,319.30 378.1,325.43 378.6,330.92 379.1,335.12 379.6,337.38 380.1,337.10 380.6,334.44 381.1,330.39 381.6,325.94 382.1,322.10 382.6,319.86 383.1,319.32 383.6,319.00 384.1,318.77 384.6,318.59 385.1,318.39 385.6,318.12 386.1,317.70 386.6,316.59 387.1,314.49 387.6,311.76 388.1,308.74 388.6,305.79 389.1,303.25 389.6,301.47 390.1,300.80 390.6,302.34 391.1,306.23 391.6,311.40 392.1,316.80 392.6,321.33 393.1,323.94 393.6,323.40 394.1,319.13 394.6,312.47 395.1,304.90 395.6,297.90 396.1,292.86 396.6,288.39 397.1,284.36 397.6,281.95 398.1,282.26 398.6,284.75 399.1,287.24 399.6,287.38 400.1,283.30 400.6,276.54 401.1,269.17 401.6,263.23 402.1,260.80 402.6,264.25 403.1,271.47 403.6,277.74 404.1,278.51 404.6,273.07 405.1,264.79 405.6,257.21 406.1,253.90 406.6,256.33 407.1,262.65 407.6,271.42 408.1,281.20 408.6,290.56 409.1,298.03 409.6,302.19 410.1,301.03 410.6,292.84 411.1,280.45 411.6,267.10 412.1,256.00 412.6,250.38 413.1,252.11 413.6,258.78 414.1,268.30 414.6,278.63 415.1,287.75 415.6,293.60 416.1,294.41 416.6,291.46 417.1,285.92 417.6,278.59 418.1,270.24 418.6,261.65 419.1,253.61 419.6,246.91 420.1,242.31 420.6,240.60 421.1,241.60 421.6,244.26 422.1,248.09 422.6,252.62 423.1,257.36 423.6,262.40 424.1,269.21 424.6,276.36 425.1,282.15 425.6,286.15 426.1,289.96 426.6,293.30 427.1,295.82 427.6,297.17 428.1,296.31 428.6,291.00 429.1,282.54 429.6,272.58 430.1,262.80 430.6,254.83 431.1,250.35 431.6,250.46 432.1,252.23 432.6,252.21 433.1,250.78 433.6,248.92 434.1,247.49 434.6,247.38 435.1,249.25 435.6,252.64 436.1,256.99 436.6,261.68 437.1,266.14 437.6,269.78 438.1,272.00 438.6,272.18 439.1,269.95 439.6,265.74 440.1,260.14 440.6,253.71 441.1,247.04 441.6,240.70 442.1,233.01 442.6,223.33 443.1,213.78 443.6,206.50 444.1,203.60 444.6,205.15 445.1,209.33 445.6,215.45 446.1,222.81 446.6,230.74 447.1,238.52 447.6,245.47 447.7,246.70" fill="none" stroke="#2020f0" stroke-width="1.3" stroke-linejoin="round"/><path d="M244.1,311.00 244.6,310.43 245.1,309.91 245.6,310.01 246.1,312.15 246.6,315.97 247.1,320.71 247.6,325.60 248.1,329.88 248.6,332.78 249.1,333.50 249.6,330.60 250.1,325.61 250.6,321.15 251.1,319.70 251.6,319.70 252.1,319.70 252.6,319.70 253.1,319.47 253.6,317.25 254.1,313.75 254.6,310.25 255.1,308.03 255.6,308.30 256.1,311.01 256.6,315.34 257.1,320.50 257.6,325.66 258.1,329.99 258.6,332.70 259.1,333.03 259.6,331.27 260.1,328.02 260.6,323.76 261.1,319.00 261.6,314.24 262.1,309.98 262.6,306.73 263.1,304.97 263.6,305.32 264.1,308.07 264.6,312.35 265.1,317.20 265.6,321.67 266.1,324.80 266.6,325.66 267.1,324.62 267.6,322.71 268.1,320.72 268.6,319.44 269.1,319.61 269.6,321.00 270.1,322.39 270.6,322.38 271.1,319.28 271.6,314.08 272.1,308.28 272.6,303.39 273.1,300.88 273.6,302.08 274.1,306.55 274.6,312.92 275.1,319.84 275.6,325.94 276.1,329.86 276.6,330.29 277.1,327.29 277.6,322.26 278.1,316.65 278.6,311.90 279.1,309.48 279.6,310.51 280.1,314.04 280.6,318.28 281.1,321.46 281.6,321.70 282.1,317.72 282.6,310.74 283.1,302.34 283.6,294.10 284.1,287.59 284.6,284.40 285.1,285.01 285.6,287.64 286.1,291.76 286.6,296.91 287.1,302.63 287.6,308.44 288.1,313.88 288.6,318.47 289.1,321.75 289.6,323.25 290.1,323.02 290.6,321.99 291.1,320.38 291.6,318.41 292.1,316.25 292.6,314.11 293.1,311.82 293.6,308.83 294.1,305.32 294.6,301.46 295.1,297.46 295.6,293.51 296.1,289.80 296.6,286.52 297.1,283.87 297.6,282.04 298.1,281.22 298.6,282.95 299.1,288.73 299.6,296.23 300.1,303.00 300.6,306.58 301.1,305.64 301.6,302.50 302.1,299.36 302.6,298.36 303.1,300.06 303.6,302.81 304.1,304.87 304.6,304.79 305.1,303.05 305.6,300.17 306.1,296.57 306.6,292.67 307.1,288.90 307.6,285.68 308.1,283.44 308.6,282.60 309.1,283.46 309.6,285.83 310.1,289.37 310.6,293.77 311.1,298.68 311.6,303.80 312.1,308.78 312.6,313.31 313.1,317.05 313.6,319.68 314.1,320.86 314.6,319.93 315.1,316.49 315.6,311.42 316.1,305.63 316.6,300.01 317.1,295.48 317.6,292.95 318.1,293.35 318.6,296.87 319.1,302.63 319.6,309.64 320.1,316.95 320.6,323.58 321.1,328.56 321.6,330.93 322.1,330.02 322.6,326.91 323.1,323.17 323.6,320.37 324.1,319.99 324.6,321.81 325.1,324.94 325.6,328.55 326.1,331.84 326.6,333.99 327.1,334.16 327.6,331.73 328.1,327.24 328.6,321.44 329.1,315.06 329.6,308.82 330.1,303.46 330.6,299.71 331.1,298.30 331.6,299.36 332.1,302.22 332.6,306.42 333.1,311.47 333.6,316.89 334.1,322.23 334.6,326.99 335.1,330.71 335.6,332.91 336.1,333.20 336.6,332.17 337.1,330.27 337.6,327.82 338.1,325.13 338.6,322.50 339.1,320.26 339.6,318.70 340.1,317.87 340.6,317.27 341.1,316.78 341.6,316.31 342.1,315.75 342.6,315.00 343.1,313.70 343.6,311.74 344.1,309.38 344.6,306.89 345.1,304.55 345.6,302.61 346.1,301.35 346.6,301.05 347.1,302.59 347.6,305.94 348.1,310.59 348.6,316.05 349.1,321.81 349.6,327.36 350.1,332.22 350.6,335.87 351.1,337.81 351.6,337.82 352.1,336.77 352.6,334.96 353.1,332.55 353.6,329.73 354.1,326.68 354.6,323.58 355.1,320.60 355.6,317.93 356.1,315.74 356.6,314.21 357.1,313.52 357.6,314.13 358.1,316.43 358.6,319.93 359.1,324.13 359.6,328.54 360.1,332.64 360.6,335.94 361.1,337.94 361.6,338.30 362.1,338.30 362.6,338.30 363.1,338.30 363.6,338.30 364.1,338.30 364.6,338.30 365.1,338.30 365.6,338.30 366.1,338.30 366.6,338.30 367.1,338.30 367.6,338.30 368.1,338.30 368.6,338.30 369.1,338.30 369.6,338.30 370.1,338.30 370.6,338.30 371.1,338.30 371.6,338.30 372.1,337.64 372.6,334.10 373.1,328.41 373.6,321.65 374.1,314.89 374.6,309.20 375.1,305.66 375.6,305.20 376.1,307.21 376.6,310.95 377.1,315.84 377.6,321.30 378.1,326.76 378.6,331.65 379.1,335.39 379.6,337.40 380.1,337.10 380.6,334.44 381.1,330.39 381.6,325.94 382.1,322.10 382.6,319.86 383.1,319.32 383.6,319.00 384.1,318.77 384.6,318.59 385.1,318.39 385.6,318.11 386.1,317.70 386.6,316.63 387.1,314.65 387.6,312.08 388.1,309.25 388.6,306.48 389.1,304.10 389.6,302.43 390.1,301.80 390.6,303.17 391.1,306.65 391.6,311.27 392.1,316.09 392.6,320.14 393.1,322.47 393.6,321.96 394.1,318.01 394.6,311.80 395.1,304.66 395.6,297.92 396.1,292.81 396.6,287.98 397.1,283.50 397.6,280.78 398.1,281.17 398.6,284.15 399.1,287.13 399.6,287.39 400.1,283.46 400.6,276.96 401.1,269.86 401.6,264.14 402.1,261.80 402.6,265.06 403.1,271.89 403.6,277.82 404.1,278.49 404.6,272.83 405.1,264.22 405.6,256.34 406.1,252.90 406.6,255.33 407.1,261.65 407.6,270.42 408.1,280.20 408.6,289.56 409.1,297.03 409.6,301.19 410.1,300.09 410.6,292.21 411.1,280.30 411.6,267.45 412.1,256.78 412.6,251.38 413.1,253.03 413.6,259.39 414.1,268.49 414.6,278.36 415.1,287.06 415.6,292.65 416.1,293.42 416.6,290.52 417.1,285.08 417.6,277.88 418.1,269.69 418.6,261.26 419.1,253.37 419.6,246.79 420.1,242.27 420.6,240.60 421.1,241.60 421.6,244.26 422.1,248.09 422.6,252.62 423.1,257.36 423.6,262.42 424.1,269.28 424.6,276.47 425.1,282.19 425.6,285.97 426.1,289.53 426.6,292.63 427.1,294.95 427.6,296.18 428.1,295.34 428.6,290.14 429.1,281.85 429.6,272.11 430.1,262.52 430.6,254.73 431.1,250.34 431.6,250.46 432.1,252.23 432.6,252.15 433.1,250.45 433.6,248.25 434.1,246.55 434.6,246.39 435.1,248.33 435.6,251.86 436.1,256.37 436.6,261.26 437.1,265.90 437.6,269.68 438.1,271.98 438.6,272.18 439.1,269.95 439.6,265.74 440.1,260.14 440.6,253.71 441.1,247.04 441.6,240.70 442.1,233.01 442.6,223.33 443.1,213.78 443.6,206.50 444.1,203.60 444.6,205.15 445.1,209.33 445.6,215.45 446.1,222.81 446.6,230.74 447.1,238.52 447.6,245.47 447.7,246.70" fill="none" stroke="#20a020" stroke-width="1.3" stroke-linejoin="round"/><path d="M244.1,311.00 244.6,310.43 245.1,309.91 245.6,310.01 246.1,312.15 246.6,315.97 247.1,320.71 247.6,325.60 248.1,329.88 248.6,332.78 249.1,333.50 249.6,330.60 250.1,325.61 250.6,321.15 251.1,319.70 251.6,319.70 252.1,319.70 252.6,319.70 253.1,319.47 253.6,317.25 254.1,313.75 254.6,310.25 255.1,308.03 255.6,308.30 256.1,311.01 256.6,315.34 257.1,320.50 257.6,325.66 258.1,329.99 258.6,332.70 259.1,333.03 259.6,331.27 260.1,328.02 260.6,323.76 261.1,319.00 261.6,314.24 262.1,309.98 262.6,306.73 263.1,304.97 263.6,305.32 264.1,308.07 264.6,312.35 265.1,317.20 265.6,321.67 266.1,324.80 266.6,325.66 267.1,324.62 267.6,322.71 268.1,320.72 268.6,319.44 269.1,319.61 269.6,321.00 270.1,322.39 270.6,322.38 271.1,319.28 271.6,314.08 272.1,308.28 272.6,303.39 273.1,300.88 273.6,302.08 274.1,306.55 274.6,312.92 275.1,319.84 275.6,325.94 276.1,329.86 276.6,330.29 277.1,327.29 277.6,322.26 278.1,316.65 278.6,311.90 279.1,309.48 279.6,310.51 280.1,314.04 280.6,318.28 281.1,321.46 281.6,321.70 282.1,317.72 282.6,310.74 283.1,302.34 283.6,294.10 284.1,287.59 284.6,284.40 285.1,285.01 285.6,287.64 286.1,291.76 286.6,296.91 287.1,302.63 287.6,308.44 288.1,313.88 288.6,318.47 289.1,321.75 289.6,323.25 290.1,322.98 290.6,321.82 291.1,320.02 291.6,317.81 292.1,315.44 292.6,313.13 293.1,310.76 293.6,307.76 294.1,304.29 294.6,300.54 295.1,296.68 295.6,292.89 296.1,289.35 296.6,286.24 297.1,283.72 297.6,281.99 298.1,281.22 298.6,282.84 299.1,288.26 299.6,295.29 300.1,301.63 300.6,304.99 301.1,304.24 301.6,301.70 302.1,299.16 302.6,298.36 303.1,300.06 303.6,302.81 304.1,304.87 304.6,304.80 305.1,303.15 305.6,300.41 306.1,296.99 306.6,293.28 307.1,289.70 307.6,286.63 308.1,284.50 308.6,283.70 309.1,284.54 309.6,286.84 310.1,290.28 310.6,294.55 311.1,299.32 311.6,304.29 312.1,309.13 312.6,313.53 313.1,317.16 313.6,319.71 314.1,320.86 314.6,319.93 315.1,316.49 315.6,311.42 316.1,305.63 316.6,300.01 317.1,295.48 317.6,292.95 318.1,293.35 318.6,296.87 319.1,302.63 319.6,309.64 320.1,316.95 320.6,323.58 321.1,328.56 321.6,330.93 322.1,330.02 322.6,326.91 323.1,323.17 323.6,320.37 324.1,319.99 324.6,321.81 325.1,324.94 325.6,328.55 326.1,331.84 326.6,333.99 327.1,334.16 327.6,331.73 328.1,327.24 328.6,321.44 329.1,315.06 329.6,308.82 330.1,303.46 330.6,299.71 331.1,298.30 331.6,299.36 332.1,302.22 332.6,306.42 333.1,311.47 333.6,316.89 334.1,322.23 334.6,326.99 335.1,330.71 335.6,332.91 336.1,333.22 336.6,332.38 337.1,330.83 337.6,328.82 338.1,326.59 338.6,324.38 339.1,322.43 339.6,321.00 340.1,320.13 340.6,319.47 341.1,318.90 341.6,318.35 342.1,317.72 342.6,316.90 343.1,315.61 343.6,313.75 344.1,311.56 344.6,309.26 345.1,307.08 345.6,305.24 346.1,303.97 346.6,303.50 347.1,305.39 347.6,310.20 348.1,316.68 348.6,323.53 349.1,329.49 349.6,333.29 350.1,333.95 350.6,333.41 351.1,332.50 351.6,331.47 352.1,330.55 352.6,330.00 353.1,329.80 353.6,329.65 354.1,329.26 354.6,327.81 355.1,325.55 355.6,322.99 356.1,320.63 356.6,318.97 357.1,318.54 357.6,319.86 358.1,322.60 358.6,326.17 359.1,329.97 359.6,333.41 360.1,335.90 360.6,337.20 361.1,338.11 361.6,338.30 362.1,338.30 362.6,338.30 363.1,338.30 363.6,338.30 364.1,338.30 364.6,338.30 365.1,338.30 365.6,338.30 366.1,338.30 366.6,338.30 367.1,338.30 367.6,338.30 368.1,338.30 368.6,338.30 369.1,338.30 369.6,338.30 370.1,338.30 370.6,338.30 371.1,338.30 371.6,338.30 372.1,337.62 372.6,333.91 373.1,327.96 373.6,320.90 374.1,313.84 374.6,307.89 375.1,304.18 375.6,303.70 376.1,305.81 376.6,309.73 377.1,314.84 377.6,320.55 378.1,326.26 378.6,331.37 379.1,335.29 379.6,337.40 380.1,337.10 380.6,334.44 381.1,330.39 381.6,325.94 382.1,322.10 382.6,319.86 383.1,319.32 383.6,319.00 384.1,318.77 384.6,318.59 385.1,318.39 385.6,318.11 386.1,317.70 386.6,316.63 387.1,314.65 387.6,312.08 388.1,309.25 388.6,306.48 389.1,304.10 389.6,302.43 390.1,301.80 390.6,303.17 391.1,306.65 391.6,311.27 392.1,316.09 392.6,320.14 393.1,322.47 393.6,321.95 394.1,317.92 394.6,311.63 395.1,304.46 395.6,297.77 396.1,292.87 396.6,288.43 397.1,284.39 397.6,281.95 398.1,282.26 398.6,284.75 399.1,287.24 399.6,287.39 400.1,283.46 400.6,276.96 401.1,269.86 401.6,264.14 402.1,261.80 402.6,265.06 403.1,271.89 403.6,277.82 404.1,278.51 404.6,273.07 405.1,264.79 405.6,257.21 406.1,253.90 406.6,256.28 407.1,262.47 407.6,271.06 408.1,280.64 408.6,289.80 409.1,297.12 409.6,301.20 410.1,300.09 410.6,292.21 411.1,280.30 411.6,267.45 412.1,256.78 412.6,251.38 413.1,253.03 413.6,259.39 414.1,268.49 414.6,278.36 415.1,287.06 415.6,292.65 416.1,293.42 416.6,290.52 417.1,285.08 417.6,277.88 418.1,269.69 418.6,261.26 419.1,253.37 419.6,246.79 420.1,242.27 420.6,240.60 421.1,241.60 421.6,244.26 422.1,248.09 422.6,252.62 423.1,257.36 423.6,262.42 424.1,269.28 424.6,276.47 425.1,282.19 425.6,285.97 426.1,289.53 426.6,292.63 427.1,294.95 427.6,296.18 428.1,295.34 428.6,290.14 429.1,281.85 429.6,272.11 430.1,262.52 430.6,254.73 431.1,250.34 431.6,250.46 432.1,252.23 432.6,252.21 433.1,250.78 433.6,248.92 434.1,247.49 434.6,247.38 435.1,249.25 435.6,252.64 436.1,256.99 436.6,261.68 437.1,266.14 437.6,269.78 438.1,272.00 438.6,272.18 439.1,269.95 439.6,265.74 440.1,260.14 440.6,253.71 441.1,247.04 441.6,240.70 442.1,233.01 442.6,223.33 443.1,213.78 443.6,206.50 444.1,203.60 444.6,205.15 445.1,209.33 445.6,215.45 446.1,222.81 446.6,230.74 447.1,238.52 447.6,245.47 447.7,246.70" fill="none" stroke="#d62e2e" stroke-width="1.25" stroke-linejoin="round"/></g><text transform="translate(366.9,348.95) rotate(90)" x="0" y="2.37" font-size="6.9" font-weight="bold" fill="#fff" stroke="#fff" stroke-width="0.25" text-anchor="middle" textLength="14.3" lengthAdjust="spacingAndGlyphs">HLG</text><rect x="365.95" y="279.4" width="1.1" height="59.6" fill="url(#arr)"/><path d="M366.5,275.4 L363.8,281.6 L369.2,281.6 Z" fill="#8a2be2"/><rect x="243.9" y="195.6" width="203.7" height="162.6" fill="none" stroke="#858585" stroke-width="1.1"/><line x1="241.6" y1="358.05" x2="243.9" y2="358.05" stroke="#444" stroke-width="0.6"/><text x="240.6" y="360.05" font-size="6.3" fill="#262626" text-anchor="end">−1</text><line x1="241.6" y1="339" x2="243.9" y2="339" stroke="#444" stroke-width="0.6"/><text x="240.6" y="341" font-size="6.3" fill="#262626" text-anchor="end">0</text><line x1="241.6" y1="319.95" x2="243.9" y2="319.95" stroke="#444" stroke-width="0.6"/><text x="240.6" y="321.95" font-size="6.3" fill="#262626" text-anchor="end">1</text><line x1="241.6" y1="300.9" x2="243.9" y2="300.9" stroke="#444" stroke-width="0.6"/><text x="240.6" y="302.9" font-size="6.3" fill="#262626" text-anchor="end">2</text><line x1="241.6" y1="281.85" x2="243.9" y2="281.85" stroke="#444" stroke-width="0.6"/><text x="240.6" y="283.85" font-size="6.3" fill="#262626" text-anchor="end">3</text><line x1="241.6" y1="262.8" x2="243.9" y2="262.8" stroke="#444" stroke-width="0.6"/><text x="240.6" y="264.8" font-size="6.3" fill="#262626" text-anchor="end">4</text><line x1="241.6" y1="243.75" x2="243.9" y2="243.75" stroke="#444" stroke-width="0.6"/><text x="240.6" y="245.75" font-size="6.3" fill="#262626" text-anchor="end">5</text><line x1="241.6" y1="224.7" x2="243.9" y2="224.7" stroke="#444" stroke-width="0.6"/><text x="240.6" y="226.7" font-size="6.3" fill="#262626" text-anchor="end">6</text><line x1="241.6" y1="205.65" x2="243.9" y2="205.65" stroke="#444" stroke-width="0.6"/><text x="240.6" y="207.65" font-size="6.3" fill="#262626" text-anchor="end">7</text><line x1="243.9" y1="358.2" x2="243.9" y2="360.5" stroke="#444" stroke-width="0.6"/><text x="244.4" y="366.3" font-size="6.3" fill="#262626" text-anchor="middle">−15.0</text><line x1="269.36" y1="358.2" x2="269.36" y2="360.5" stroke="#444" stroke-width="0.6"/><text x="269.86" y="366.3" font-size="6.3" fill="#262626" text-anchor="middle">−12.5</text><line x1="294.82" y1="358.2" x2="294.82" y2="360.5" stroke="#444" stroke-width="0.6"/><text x="295.32" y="366.3" font-size="6.3" fill="#262626" text-anchor="middle">−10.0</text><line x1="320.29" y1="358.2" x2="320.29" y2="360.5" stroke="#444" stroke-width="0.6"/><text x="320.79" y="366.3" font-size="6.3" fill="#262626" text-anchor="middle">−7.5</text><line x1="345.75" y1="358.2" x2="345.75" y2="360.5" stroke="#444" stroke-width="0.6"/><text x="346.25" y="366.3" font-size="6.3" fill="#262626" text-anchor="middle">−5.0</text><line x1="371.21" y1="358.2" x2="371.21" y2="360.5" stroke="#444" stroke-width="0.6"/><text x="371.71" y="366.3" font-size="6.3" fill="#262626" text-anchor="middle">−2.5</text><line x1="396.68" y1="358.2" x2="396.68" y2="360.5" stroke="#444" stroke-width="0.6"/><text x="397.18" y="366.3" font-size="6.3" fill="#262626" text-anchor="middle">0.0</text><line x1="422.14" y1="358.2" x2="422.14" y2="360.5" stroke="#444" stroke-width="0.6"/><text x="422.64" y="366.3" font-size="6.3" fill="#262626" text-anchor="middle">2.5</text><line x1="447.6" y1="358.2" x2="447.6" y2="360.5" stroke="#444" stroke-width="0.6"/><text x="448.1" y="366.3" font-size="6.3" fill="#262626" text-anchor="middle">5.0</text><text x="345.75" y="373.4" font-size="5.9" fill="#2a2a2a" text-anchor="middle">Energy (eV)</text><text x="250.4" y="210.7" font-size="10.9" font-weight="bold" fill="#0b1142" stroke="#0b1142" stroke-width="0.2" letter-spacing="0.8" textLength="95.6" lengthAdjust="spacingAndGlyphs">Al.Coronene@FA</text><text x="335.7" y="268.8" font-size="13.06" font-weight="bold" fill="#320b72" stroke="#320b72" stroke-width="0.35" textLength="56.1" lengthAdjust="spacingAndGlyphs">0.39 eV</text><rect x="353.9" y="197.3" width="91.6" height="42.5" rx="0.8" fill="#fff" fill-opacity="0.8" stroke="#d8d8d8" stroke-width="0.5"/><line x1="355" y1="200.4" x2="364.5" y2="200.4" stroke="#3a3af0" stroke-width="1.2"/><text x="367.7" y="202" font-size="4.6" fill="#333" textLength="44.5" lengthAdjust="spacingAndGlyphs">Alpha DOS spectrum</text><line x1="355" y1="206.4" x2="364.5" y2="206.4" stroke="#3c9a3c" stroke-width="1.2"/><text x="367.7" y="208" font-size="4.6" fill="#333" textLength="40.5" lengthAdjust="spacingAndGlyphs">Beta DOS spectrum</text><line x1="355" y1="212.4" x2="364.5" y2="212.4" stroke="#e04848" stroke-width="1.2"/><text x="367.7" y="214" font-size="4.6" fill="#333" textLength="75.5" lengthAdjust="spacingAndGlyphs">Total DOS spectrum (scaled by 0.5)</text><line x1="355" y1="218.4" x2="364.5" y2="218.4" stroke="#6cd2d2" stroke-width="1.2"/><text x="367.7" y="220" font-size="4.6" fill="#333" textLength="50.5" lengthAdjust="spacingAndGlyphs">Alpha Occupied orbitals</text><line x1="355" y1="224.4" x2="364.5" y2="224.4" stroke="#c050c8" stroke-width="1.2"/><text x="367.7" y="226" font-size="4.6" fill="#333" textLength="44.5" lengthAdjust="spacingAndGlyphs">Alpha Virtual orbitals</text><line x1="355" y1="230.4" x2="364.5" y2="230.4" stroke="#c8c860" stroke-width="1.2"/><text x="367.7" y="232" font-size="4.6" fill="#333" textLength="49" lengthAdjust="spacingAndGlyphs">Beta Occupied Orbitals</text><line x1="355" y1="236.4" x2="364.5" y2="236.4" stroke="#404040" stroke-width="1.2"/><text x="367.7" y="238" font-size="4.6" fill="#333" textLength="43.5" lengthAdjust="spacingAndGlyphs">Beta Virtual Orbitals</text></g>
<g><g clip-path="url(#clip5)"><rect x="474.9" y="339" width="1.3" height="20.4" fill="#008000" fill-opacity="0.856"/><rect x="482.3" y="339" width="1.3" height="20.4" fill="#008000" fill-opacity="0.856"/><rect x="486.3" y="339" width="1.3" height="20.4" fill="#008000" fill-opacity="0.766"/><rect x="493.1" y="339" width="1.9" height="20.4" fill="#008000" fill-opacity="0.945"/><rect x="498.1" y="339" width="1.3" height="20.4" fill="#008000" fill-opacity="0.766"/><rect x="500.3" y="339" width="3.9" height="20.4" fill="#008000" fill-opacity="0.856"/><rect x="508.6" y="339" width="2.2" height="20.4" fill="#008000" fill-opacity="0.856"/><rect x="512.5" y="339" width="2.7" height="20.4" fill="#008000" fill-opacity="0.966"/><rect x="515.2" y="339" width="4.3" height="20.4" fill="#008000" fill-opacity="0.911"/><rect x="521.3" y="339" width="1.7" height="20.4" fill="#008000" fill-opacity="0.856"/><rect x="524.3" y="339" width="2.2" height="20.4" fill="#008000" fill-opacity="0.911"/><rect x="527" y="339" width="2.6" height="20.4" fill="#008000" fill-opacity="0.945"/><rect x="531.4" y="339" width="2.1" height="20.4" fill="#008000" fill-opacity="0.856"/><rect x="534.8" y="339" width="2.6" height="20.4" fill="#008000" fill-opacity="0.945"/><rect x="539.2" y="339" width="1.7" height="20.4" fill="#008000" fill-opacity="0.856"/><rect x="542.3" y="339" width="1.7" height="20.4" fill="#008000" fill-opacity="0.945"/><rect x="545.3" y="339" width="4" height="20.4" fill="#008000" fill-opacity="0.807"/><rect x="553.2" y="339" width="2.6" height="20.4" fill="#008000" fill-opacity="0.856"/><rect x="560.2" y="339" width="1.8" height="20.4" fill="#008000" fill-opacity="0.856"/><rect x="563.9" y="339" width="1.4" height="20.4" fill="#008000" fill-opacity="0.856"/><rect x="571.9" y="339" width="1.4" height="20.4" fill="#008000" fill-opacity="0.856"/><rect x="574.6" y="339" width="1.4" height="20.4" fill="#008000" fill-opacity="0.945"/><rect x="579" y="339" width="2.7" height="20.4" fill="#008000" fill-opacity="0.687"/><rect x="581.4" y="339" width="1.4" height="20.4" fill="#008000" fill-opacity="0.856"/><rect x="593.9" y="339" width="1.4" height="20.4" fill="#ff0000" fill-opacity="0.911"/><rect x="603.2" y="339" width="2.3" height="20.4" fill="#ff0000" fill-opacity="0.856"/><rect x="611.8" y="339" width="1.4" height="20.4" fill="#ff0000" fill-opacity="0.856"/><rect x="615.8" y="339" width="1.4" height="20.4" fill="#ff0000" fill-opacity="0.856"/><rect x="619.1" y="339" width="2.9" height="20.4" fill="#ff0000" fill-opacity="0.716"/><rect x="624" y="339" width="4.8" height="20.4" fill="#ff0000" fill-opacity="0.911"/><rect x="630.4" y="339" width="2.4" height="20.4" fill="#ff0000" fill-opacity="0.945"/><rect x="633.2" y="339" width="1.8" height="20.4" fill="#ff0000" fill-opacity="0.856"/><rect x="634" y="339" width="2.4" height="20.4" fill="#ff0000" fill-opacity="0.856"/><rect x="636.8" y="339" width="7.1" height="20.4" fill="#ff0000" fill-opacity="0.911"/><rect x="645.9" y="339" width="2.8" height="20.4" fill="#ff0000" fill-opacity="0.766"/><rect x="649.1" y="339" width="4.8" height="20.4" fill="#ff0000" fill-opacity="0.945"/><rect x="653.9" y="339" width="3.2" height="20.4" fill="#ff0000" fill-opacity="0.766"/><rect x="658.3" y="339" width="1.6" height="20.4" fill="#ff0000" fill-opacity="0.945"/><rect x="660.7" y="339" width="4.3" height="20.4" fill="#ff0000" fill-opacity="0.911"/><rect x="665" y="339" width="4" height="20.4" fill="#ff0000" fill-opacity="0.945"/><rect x="669" y="339" width="3.2" height="20.4" fill="#ff0000" fill-opacity="0.856"/><rect x="673" y="339" width="4.4" height="20.4" fill="#ff0000" fill-opacity="0.966"/><rect x="583.1" y="339.4" width="10.7" height="20" fill="url(#hlgH)"/><path d="M474.9,309.20 475.4,313.51 475.9,318.44 476.4,323.55 476.9,328.39 477.4,332.52 477.9,335.49 478.4,336.86 478.9,336.50 479.4,335.01 479.9,332.71 480.4,329.89 480.9,326.83 481.4,323.84 481.9,321.19 482.4,319.18 482.9,318.10 483.4,318.98 483.9,322.67 484.4,324.26 484.9,323.15 485.4,321.19 485.9,319.33 486.4,318.50 486.9,319.77 487.4,322.93 487.9,327.05 488.4,331.17 488.9,334.33 489.4,335.60 489.9,333.62 490.4,328.35 490.9,320.78 491.4,311.91 491.9,302.75 492.4,294.28 492.9,287.51 493.4,283.44 493.9,283.18 494.4,287.96 494.9,296.27 495.4,306.16 495.9,315.65 496.4,322.79 496.9,325.60 497.4,324.29 497.9,321.16 498.4,317.44 498.9,314.31 499.4,313.00 499.9,314.30 500.4,315.93 500.9,314.42 501.4,309.39 501.9,303.34 502.4,298.82 502.9,298.22 503.4,301.44 503.9,307.15 504.4,314.17 504.9,321.31 505.4,327.38 505.9,331.19 506.4,331.74 506.9,330.09 507.4,327.03 507.9,322.98 508.4,318.42 508.9,313.78 509.4,309.51 509.9,306.06 510.4,303.88 510.9,302.76 511.4,301.06 511.9,294.92 512.4,284.94 512.9,273.74 513.4,263.95 513.9,258.19 514.4,257.72 514.9,258.45 515.4,259.74 515.9,261.51 516.4,263.67 516.9,266.14 517.4,268.82 517.9,271.63 518.4,274.52 518.9,279.08 519.4,285.24 519.9,291.91 520.4,298.02 520.9,302.47 521.4,304.20 521.9,304.20 522.4,304.20 522.9,304.20 523.4,304.20 523.9,305.14 524.4,306.51 524.9,306.14 525.4,303.15 525.9,298.46 526.4,293.07 526.9,287.98 527.4,284.19 527.9,282.70 528.4,284.66 528.9,289.57 529.4,295.95 529.9,302.33 530.4,307.24 530.9,309.20 531.4,307.96 531.9,305.00 532.4,301.43 532.9,298.36 533.4,296.15 533.9,293.87 534.4,291.68 534.9,289.81 535.4,288.45 535.9,287.82 536.4,288.75 536.9,292.12 537.4,297.06 537.9,302.64 538.4,307.94 538.9,312.05 539.4,314.04 539.9,313.65 540.4,312.01 540.9,309.53 541.4,306.58 541.9,303.51 542.4,300.70 542.9,298.51 543.4,297.32 543.9,297.91 544.4,300.94 544.9,303.67 545.4,303.73 545.9,302.41 546.4,300.60 546.9,298.99 547.4,298.30 547.9,300.28 548.4,305.37 548.9,312.27 549.4,319.69 549.9,326.33 550.4,330.90 550.9,332.12 551.4,329.69 551.9,324.69 552.4,318.29 552.9,311.67 553.4,305.97 553.9,302.37 554.4,302.03 554.9,305.36 555.4,311.20 555.9,318.22 556.4,325.11 556.9,330.55 557.4,333.21 557.9,331.96 558.4,327.24 558.9,320.38 559.4,312.73 559.9,305.60 560.4,300.35 560.9,298.30 561.4,299.48 561.9,302.43 562.4,306.29 562.9,310.20 563.4,313.29 563.9,314.95 564.4,316.01 564.9,317.19 565.4,319.24 565.9,322.39 566.4,326.14 566.9,329.98 567.4,333.36 567.9,335.78 568.4,336.70 568.9,336.00 569.4,334.14 569.9,331.44 570.4,328.23 570.9,324.87 571.4,321.66 571.9,318.96 572.4,317.10 572.9,316.40 573.4,316.49 573.9,316.71 574.4,317.02 574.9,317.36 575.4,317.76 575.9,318.37 576.4,319.04 576.9,319.58 577.4,319.80 577.9,319.53 578.4,318.82 578.9,317.84 579.4,316.73 579.9,315.64 580.4,314.75 580.9,314.20 581.4,314.34 581.9,316.69 582.4,320.85 582.9,325.92 583.4,330.99 583.9,335.17 584.4,337.55 584.9,337.82 585.4,337.85 585.9,337.88 586.4,337.90 586.9,337.92 587.4,337.94 587.9,337.95 588.4,337.97 588.9,337.98 589.4,337.99 589.9,337.99 590.4,338.00 590.9,338.00 591.4,338.00 591.9,335.75 592.4,329.97 592.9,322.13 593.4,313.71 593.9,306.16 594.4,300.97 594.9,299.58 595.4,302.04 595.9,307.21 596.4,314.04 596.9,321.49 597.4,328.52 597.9,334.11 598.4,337.20 598.9,337.22 599.4,335.64 599.9,332.91 600.4,329.30 600.9,325.11 601.4,320.61 601.9,316.07 602.4,311.80 602.9,308.05 603.4,305.12 603.9,303.29 604.4,302.85 604.9,304.39 605.4,307.71 605.9,312.26 606.4,317.52 606.9,322.93 607.4,327.97 607.9,332.10 608.4,334.77 608.9,335.47 609.4,334.42 609.9,332.23 610.4,329.30 610.9,326.08 611.4,322.98 611.9,320.44 612.4,318.88 612.9,319.04 613.4,322.65 613.9,326.66 614.4,327.37 614.9,325.35 615.4,322.64 615.9,320.96 616.4,321.15 616.9,321.75 617.4,321.95 617.9,320.34 618.4,317.08 618.9,313.00 619.4,308.92 619.9,305.66 620.4,304.05 620.9,304.81 621.4,307.43 621.9,310.67 622.4,313.29 622.9,314.05 623.4,312.31 623.9,308.68 624.4,303.93 624.9,298.82 625.4,294.11 625.9,290.56 626.4,288.73 626.9,287.50 627.4,287.20 627.9,289.67 628.4,292.53 628.9,291.65 629.4,285.13 629.9,275.40 630.4,265.13 630.9,257.00 631.4,253.70 631.9,256.67 632.4,263.77 632.9,272.23 633.4,279.33 633.9,282.30 634.4,280.03 634.9,274.92 635.4,269.55 635.9,266.50 636.4,267.51 636.9,271.04 637.4,275.28 637.9,278.46 638.4,278.82 638.9,275.99 639.4,270.91 639.9,264.56 640.4,257.91 640.9,251.95 641.4,247.65 641.9,246.00 642.4,248.71 642.9,255.81 643.4,265.80 643.9,277.15 644.4,288.36 644.9,297.89 645.4,304.24 645.9,305.92 646.4,303.19 646.9,297.26 647.4,289.02 647.9,279.36 648.4,269.17 648.9,259.33 649.4,250.73 649.9,244.27 650.4,240.83 650.9,240.84 651.4,242.68 651.9,245.71 652.4,249.41 652.9,253.30 653.4,257.40 653.9,263.19 654.4,270.09 654.9,277.29 655.4,283.99 655.9,289.37 656.4,292.61 656.9,292.89 657.4,289.83 657.9,284.71 658.4,279.03 658.9,274.26 659.4,271.84 659.9,270.96 660.4,270.22 660.9,268.47 661.4,262.85 661.9,254.74 662.4,246.46 662.9,240.32 663.4,238.63 663.9,242.24 664.4,248.44 664.9,254.00 665.4,255.79 665.9,255.37 666.4,254.57 666.9,253.66 667.4,252.91 667.9,252.60 668.4,253.94 668.9,257.22 669.4,261.29 669.9,265.01 670.4,267.27 670.9,266.92 671.4,263.69 671.9,258.36 672.4,251.71 672.9,244.56 673.4,237.70 673.9,229.13 674.4,218.63 674.9,209.75 675.4,206.00 675.9,209.40 676.4,217.75 676.9,228.30 677.4,238.31 677.5,240.00" fill="none" stroke="#2f2ff0" stroke-width="1.15" stroke-linejoin="round"/></g><text transform="translate(588.8,349.4) rotate(90)" x="0" y="2.72" font-size="7.9" font-weight="bold" fill="#fff" stroke="#fff" stroke-width="0.25" text-anchor="middle" textLength="16" lengthAdjust="spacingAndGlyphs">HLG</text><rect x="588.35" y="275.6" width="1.1" height="63.4" fill="url(#arr)"/><path d="M588.9,271.6 L586.2,277.8 L591.6,277.8 Z" fill="#8a2be2"/><rect x="474.8" y="197.2" width="202.7" height="162.2" fill="none" stroke="#858585" stroke-width="1.1"/><line x1="472.5" y1="359.03" x2="474.8" y2="359.03" stroke="#444" stroke-width="0.6"/><text x="471.5" y="361.03" font-size="6.3" fill="#262626" text-anchor="end">−1</text><line x1="472.5" y1="339" x2="474.8" y2="339" stroke="#444" stroke-width="0.6"/><text x="471.5" y="341" font-size="6.3" fill="#262626" text-anchor="end">0</text><line x1="472.5" y1="318.97" x2="474.8" y2="318.97" stroke="#444" stroke-width="0.6"/><text x="471.5" y="320.97" font-size="6.3" fill="#262626" text-anchor="end">1</text><line x1="472.5" y1="298.94" x2="474.8" y2="298.94" stroke="#444" stroke-width="0.6"/><text x="471.5" y="300.94" font-size="6.3" fill="#262626" text-anchor="end">2</text><line x1="472.5" y1="278.91" x2="474.8" y2="278.91" stroke="#444" stroke-width="0.6"/><text x="471.5" y="280.91" font-size="6.3" fill="#262626" text-anchor="end">3</text><line x1="472.5" y1="258.88" x2="474.8" y2="258.88" stroke="#444" stroke-width="0.6"/><text x="471.5" y="260.88" font-size="6.3" fill="#262626" text-anchor="end">4</text><line x1="472.5" y1="238.85" x2="474.8" y2="238.85" stroke="#444" stroke-width="0.6"/><text x="471.5" y="240.85" font-size="6.3" fill="#262626" text-anchor="end">5</text><line x1="472.5" y1="218.82" x2="474.8" y2="218.82" stroke="#444" stroke-width="0.6"/><text x="471.5" y="220.82" font-size="6.3" fill="#262626" text-anchor="end">6</text><line x1="472.5" y1="198.79" x2="474.8" y2="198.79" stroke="#444" stroke-width="0.6"/><text x="471.5" y="200.79" font-size="6.3" fill="#262626" text-anchor="end">7</text><line x1="474.8" y1="359.4" x2="474.8" y2="361.7" stroke="#444" stroke-width="0.6"/><text x="475.3" y="367.5" font-size="6.3" fill="#262626" text-anchor="middle">−15.0</text><line x1="500.14" y1="359.4" x2="500.14" y2="361.7" stroke="#444" stroke-width="0.6"/><text x="500.64" y="367.5" font-size="6.3" fill="#262626" text-anchor="middle">−12.5</text><line x1="525.48" y1="359.4" x2="525.48" y2="361.7" stroke="#444" stroke-width="0.6"/><text x="525.98" y="367.5" font-size="6.3" fill="#262626" text-anchor="middle">−10.0</text><line x1="550.81" y1="359.4" x2="550.81" y2="361.7" stroke="#444" stroke-width="0.6"/><text x="551.31" y="367.5" font-size="6.3" fill="#262626" text-anchor="middle">−7.5</text><line x1="576.15" y1="359.4" x2="576.15" y2="361.7" stroke="#444" stroke-width="0.6"/><text x="576.65" y="367.5" font-size="6.3" fill="#262626" text-anchor="middle">−5.0</text><line x1="601.49" y1="359.4" x2="601.49" y2="361.7" stroke="#444" stroke-width="0.6"/><text x="601.99" y="367.5" font-size="6.3" fill="#262626" text-anchor="middle">−2.5</text><line x1="626.83" y1="359.4" x2="626.83" y2="361.7" stroke="#444" stroke-width="0.6"/><text x="627.33" y="367.5" font-size="6.3" fill="#262626" text-anchor="middle">0.0</text><line x1="652.16" y1="359.4" x2="652.16" y2="361.7" stroke="#444" stroke-width="0.6"/><text x="652.66" y="367.5" font-size="6.3" fill="#262626" text-anchor="middle">2.5</text><line x1="677.5" y1="359.4" x2="677.5" y2="361.7" stroke="#444" stroke-width="0.6"/><text x="678" y="367.5" font-size="6.3" fill="#262626" text-anchor="middle">5.0</text><text x="576.15" y="374.6" font-size="5.9" fill="#2a2a2a" text-anchor="middle">Energy (eV)</text><text x="480.6" y="210.7" font-size="10.9" font-weight="bold" fill="#0b1142" stroke="#0b1142" stroke-width="0.2" letter-spacing="0.8" textLength="98.3" lengthAdjust="spacingAndGlyphs">Zn.Coronene@FA</text><text x="563.8" y="266.9" font-size="12.92" font-weight="bold" fill="#320b72" stroke="#320b72" stroke-width="0.35" textLength="55.5" lengthAdjust="spacingAndGlyphs">1.19 eV</text><rect x="622.7" y="199.3" width="52.6" height="19" rx="0.8" fill="#fff" fill-opacity="0.8" stroke="#d8d8d8" stroke-width="0.5"/><line x1="624" y1="202.7" x2="633.2" y2="202.7" stroke="#3a3af0" stroke-width="1.2"/><text x="636" y="204.3" font-size="4.6" fill="#333" textLength="30.9" lengthAdjust="spacingAndGlyphs">DOS spectrum</text><line x1="624" y1="208.6" x2="633.2" y2="208.6" stroke="#3c9a3c" stroke-width="1.2"/><text x="636" y="210.2" font-size="4.6" fill="#333" textLength="36.8" lengthAdjust="spacingAndGlyphs">Occupied orbitals</text><line x1="624" y1="214.7" x2="633.2" y2="214.7" stroke="#e04848" stroke-width="1.2"/><text x="636" y="216.3" font-size="4.6" fill="#333" textLength="31.5" lengthAdjust="spacingAndGlyphs">Virtual orbitals</text></g>
</svg>
</body></html>
